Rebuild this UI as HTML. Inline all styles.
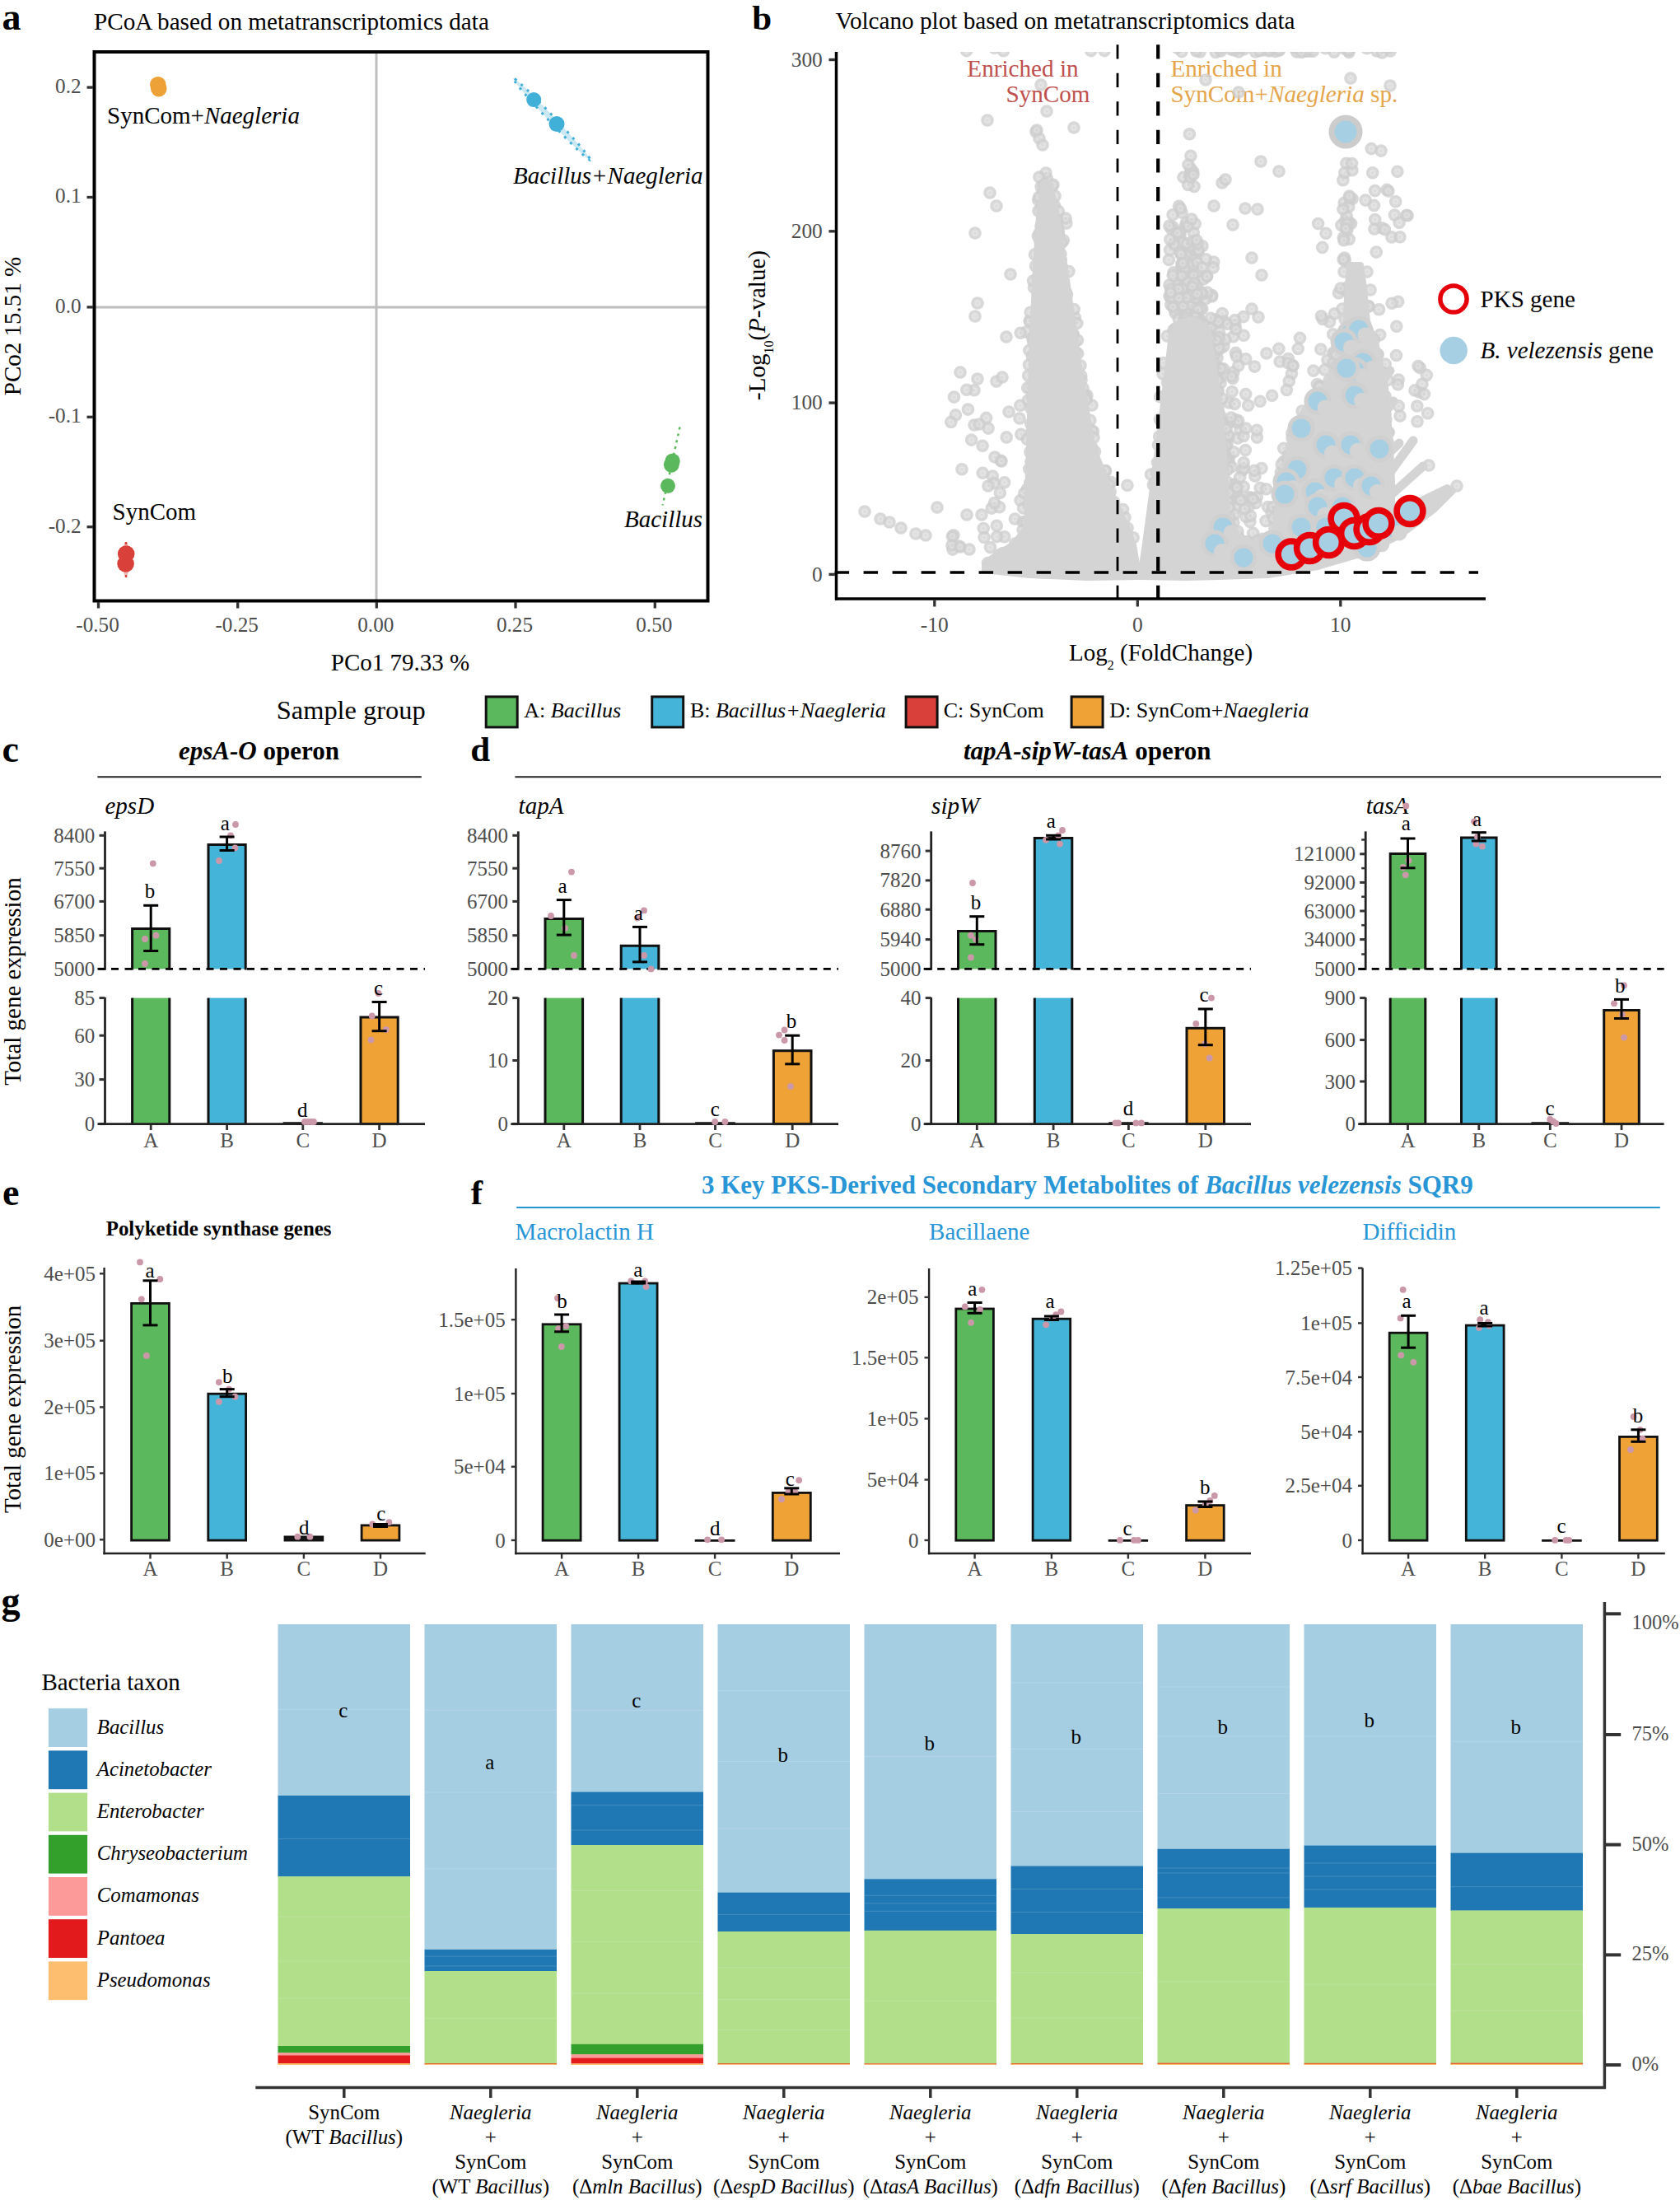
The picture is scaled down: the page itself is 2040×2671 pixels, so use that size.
<!DOCTYPE html>
<html><head><meta charset="utf-8"><title>Figure</title>
<style>
html,body{margin:0;padding:0;background:#fff}
svg{display:block}
text{font-family:"Liberation Serif",serif}
</style></head><body>
<svg width="2040" height="2671" viewBox="0 0 2040 2671">
<rect width="2040" height="2671" fill="#fff"/>
<text x="2.4" y="35.8" font-size="46" font-weight="bold">a</text>
<text x="114" y="35.5" font-size="29.2">PCoA based on metatranscriptomics data</text>
<line x1="457" y1="63" x2="457" y2="729" stroke="#bebebe" stroke-width="3"/>
<line x1="114" y1="372.9" x2="860" y2="372.9" stroke="#bebebe" stroke-width="3"/>
<rect x="114.5" y="63" width="745" height="666.5" fill="none" stroke="#000" stroke-width="4"/>
<line x1="105.5" y1="106.1" x2="113" y2="106.1" stroke="#333" stroke-width="3.3"/>
<text x="98.6" y="112.9" font-size="25.2" text-anchor="end" fill="#4d4d4d">0.2</text>
<line x1="105.5" y1="239.5" x2="113" y2="239.5" stroke="#333" stroke-width="3.3"/>
<text x="98.6" y="246.3" font-size="25.2" text-anchor="end" fill="#4d4d4d">0.1</text>
<line x1="105.5" y1="372.9" x2="113" y2="372.9" stroke="#333" stroke-width="3.3"/>
<text x="98.6" y="379.7" font-size="25.2" text-anchor="end" fill="#4d4d4d">0.0</text>
<line x1="105.5" y1="506.3" x2="113" y2="506.3" stroke="#333" stroke-width="3.3"/>
<text x="98.6" y="513.1" font-size="25.2" text-anchor="end" fill="#4d4d4d">-0.1</text>
<line x1="105.5" y1="639.7" x2="113" y2="639.7" stroke="#333" stroke-width="3.3"/>
<text x="98.6" y="646.5" font-size="25.2" text-anchor="end" fill="#4d4d4d">-0.2</text>
<line x1="119.5" y1="731" x2="119.5" y2="738.5" stroke="#333" stroke-width="3.3"/>
<text x="118.5" y="766.5" font-size="25.2" text-anchor="middle" fill="#4d4d4d">-0.50</text>
<line x1="288.7" y1="731" x2="288.7" y2="738.5" stroke="#333" stroke-width="3.3"/>
<text x="287.7" y="766.5" font-size="25.2" text-anchor="middle" fill="#4d4d4d">-0.25</text>
<line x1="457.3" y1="731" x2="457.3" y2="738.5" stroke="#333" stroke-width="3.3"/>
<text x="456.3" y="766.5" font-size="25.2" text-anchor="middle" fill="#4d4d4d">0.00</text>
<line x1="626" y1="731" x2="626" y2="738.5" stroke="#333" stroke-width="3.3"/>
<text x="625" y="766.5" font-size="25.2" text-anchor="middle" fill="#4d4d4d">0.25</text>
<line x1="795.3" y1="731" x2="795.3" y2="738.5" stroke="#333" stroke-width="3.3"/>
<text x="794.3" y="766.5" font-size="25.2" text-anchor="middle" fill="#4d4d4d">0.50</text>
<text x="486" y="814" font-size="29" text-anchor="middle">PCo1 79.33 %</text>
<text x="25" y="396" font-size="29" text-anchor="middle" transform="rotate(-90 25 396)">PCo2 15.51 %</text>
<circle cx="191.8" cy="102.8" r="9.8" fill="#eda137"/>
<circle cx="192.8" cy="107.6" r="9.8" fill="#eda137"/>
<text x="130" y="150" font-size="29">SynCom+<tspan font-style="italic">Naegleria</tspan></text>
<g transform="rotate(46.7 669.9 144.6)"><ellipse cx="669.9" cy="144.6" rx="68.5" ry="3.6" fill="#cbe8f3" stroke="#41b0d8" stroke-width="3" stroke-dasharray="3 7"/></g>
<circle cx="648.2" cy="121.1" r="9" fill="#41b0d8"/>
<circle cx="676" cy="150.5" r="9.5" fill="#41b0d8"/>
<text x="623" y="223.2" font-size="29"><tspan font-style="italic">Bacillus+Naegleria</tspan></text>
<line x1="825.5" y1="518.6" x2="804.6" y2="613.4" stroke="#5cb85c" stroke-width="2.5" stroke-dasharray="3 5"/>
<circle cx="816.6" cy="559.8" r="9.2" fill="#5cb85c"/>
<circle cx="815.3" cy="564.3" r="9.4" fill="#5cb85c"/>
<circle cx="811" cy="589.8" r="9" fill="#5cb85c"/>
<text x="758" y="640.2" font-size="29"><tspan font-style="italic">Bacillus</tspan></text>
<ellipse cx="153" cy="679" rx="4.5" ry="21" fill="#f2b8b5"/>
<line x1="153" y1="658" x2="153" y2="701" stroke="#d9403a" stroke-width="2.5" stroke-dasharray="3 5"/>
<circle cx="153.2" cy="672.5" r="10.3" fill="#d9403a"/>
<circle cx="152.6" cy="684.5" r="10.3" fill="#d9403a"/>
<text x="136.6" y="631" font-size="29">SynCom</text>
<text x="913.3" y="35.6" font-size="43" font-weight="bold">b</text>
<text x="1014.6" y="34.5" font-size="29.2">Volcano plot based on metatranscriptomics data</text>
<clipPath id="vc"><rect x="1017" y="63" width="800" height="664"/></clipPath>
<text x="1174.3" y="93" font-size="29.2" fill="#c0504d">Enriched in</text>
<text x="1221.4" y="124.3" font-size="29.2" fill="#c0504d">SynCom</text>
<text x="1421.4" y="93" font-size="29.2" fill="#e5a54b">Enriched in</text>
<text x="1421.4" y="124.3" font-size="29.2" fill="#e5a54b">SynCom+<tspan font-style="italic">Naegleria</tspan> sp.</text>
<g clip-path="url(#vc)">
<defs><radialGradient id="pg"><stop offset="0" stop-color="#d2d2d2"/><stop offset="0.12" stop-color="#d2d2d2"/><stop offset="0.3" stop-color="#dedede"/><stop offset="0.4" stop-color="#dedede"/><stop offset="0.6" stop-color="#cecece"/><stop offset="1" stop-color="#cecece"/></radialGradient></defs>
<g fill="url(#pg)" fill-opacity="0.8">
<circle cx="1290" cy="368.8" r="7.8"/>
<circle cx="1280.4" cy="249.4" r="7.8"/>
<circle cx="1281.6" cy="469.5" r="7.8"/>
<circle cx="1289" cy="456" r="7.8"/>
<circle cx="1269.3" cy="232.8" r="7.8"/>
<circle cx="1274" cy="258.1" r="7.8"/>
<circle cx="1285.9" cy="416.6" r="7.8"/>
<circle cx="1272" cy="321" r="7.8"/>
<circle cx="1311.9" cy="513" r="7.8"/>
<circle cx="1275.7" cy="403.4" r="7.8"/>
<circle cx="1349" cy="678.7" r="7.8"/>
<circle cx="1285.2" cy="352.6" r="7.8"/>
<circle cx="1279.7" cy="283.5" r="7.8"/>
<circle cx="1307.1" cy="602.7" r="7.8"/>
<circle cx="1264" cy="300.8" r="7.8"/>
<circle cx="1271.5" cy="391.9" r="7.8"/>
<circle cx="1291.5" cy="475.2" r="7.8"/>
<circle cx="1277.5" cy="312.8" r="7.8"/>
<circle cx="1273.8" cy="538.2" r="7.8"/>
<circle cx="1293.9" cy="493.1" r="7.8"/>
<circle cx="1274.9" cy="430.3" r="7.8"/>
<circle cx="1325.3" cy="547" r="7.8"/>
<circle cx="1265.7" cy="330.9" r="7.8"/>
<circle cx="1281.7" cy="630.7" r="7.8"/>
<circle cx="1276.9" cy="561.5" r="7.8"/>
<circle cx="1294.9" cy="271.1" r="7.8"/>
<circle cx="1282.6" cy="413.6" r="7.8"/>
<circle cx="1275" cy="447.3" r="7.8"/>
<circle cx="1266.3" cy="233.6" r="7.8"/>
<circle cx="1260.1" cy="487.2" r="7.8"/>
<circle cx="1280.4" cy="630.9" r="7.8"/>
<circle cx="1313.4" cy="497.3" r="7.8"/>
<circle cx="1253.5" cy="490.5" r="7.8"/>
<circle cx="1310.8" cy="663.7" r="7.8"/>
<circle cx="1281" cy="440.2" r="7.8"/>
<circle cx="1284" cy="548.2" r="7.8"/>
<circle cx="1325.1" cy="522.4" r="7.8"/>
<circle cx="1277.5" cy="350.2" r="7.8"/>
<circle cx="1279.9" cy="398.3" r="7.8"/>
<circle cx="1280.6" cy="434.3" r="7.8"/>
<circle cx="1277.4" cy="294.8" r="7.8"/>
<circle cx="1297.4" cy="579.9" r="7.8"/>
<circle cx="1274.1" cy="276.4" r="7.8"/>
<circle cx="1319.6" cy="628.9" r="7.8"/>
<circle cx="1264.2" cy="253.3" r="7.8"/>
<circle cx="1305.3" cy="634.6" r="7.8"/>
<circle cx="1306.1" cy="604.2" r="7.8"/>
<circle cx="1273.3" cy="412.3" r="7.8"/>
<circle cx="1305.3" cy="385.4" r="7.8"/>
<circle cx="1260.3" cy="286.7" r="7.8"/>
<circle cx="1276.1" cy="298.7" r="7.8"/>
<circle cx="1295.7" cy="445.4" r="7.8"/>
<circle cx="1287" cy="494.8" r="7.8"/>
<circle cx="1283.5" cy="414" r="7.8"/>
<circle cx="1250.5" cy="390.4" r="7.8"/>
<circle cx="1269.4" cy="543" r="7.8"/>
<circle cx="1266.5" cy="459.9" r="7.8"/>
<circle cx="1265.4" cy="240.6" r="7.8"/>
<circle cx="1305.5" cy="642.3" r="7.8"/>
<circle cx="1247.2" cy="594" r="7.8"/>
<circle cx="1276.2" cy="401.4" r="7.8"/>
<circle cx="1293.7" cy="516.3" r="7.8"/>
<circle cx="1276.2" cy="244.6" r="7.8"/>
<circle cx="1277.4" cy="292.1" r="7.8"/>
<circle cx="1280.3" cy="376.5" r="7.8"/>
<circle cx="1274.7" cy="286.9" r="7.8"/>
<circle cx="1272.1" cy="263.2" r="7.8"/>
<circle cx="1299.4" cy="630.3" r="7.8"/>
<circle cx="1296.3" cy="506.7" r="7.8"/>
<circle cx="1288.1" cy="380" r="7.8"/>
<circle cx="1299.2" cy="388" r="7.8"/>
<circle cx="1335.6" cy="686.7" r="7.8"/>
<circle cx="1277" cy="436.3" r="7.8"/>
<circle cx="1273.5" cy="263.5" r="7.8"/>
<circle cx="1277.8" cy="377.8" r="7.8"/>
<circle cx="1291.3" cy="291.7" r="7.8"/>
<circle cx="1277.6" cy="226" r="7.8"/>
<circle cx="1271.3" cy="284.6" r="7.8"/>
<circle cx="1306.6" cy="473" r="7.8"/>
<circle cx="1303.8" cy="679.8" r="7.8"/>
<circle cx="1288.6" cy="625.1" r="7.8"/>
<circle cx="1271" cy="389.2" r="7.8"/>
<circle cx="1276.6" cy="294.3" r="7.8"/>
<circle cx="1265" cy="585.1" r="7.8"/>
<circle cx="1283.6" cy="371.6" r="7.8"/>
<circle cx="1347.1" cy="682.8" r="7.8"/>
<circle cx="1310" cy="620" r="7.8"/>
<circle cx="1253.9" cy="566.4" r="7.8"/>
<circle cx="1267.2" cy="322.7" r="7.8"/>
<circle cx="1270.5" cy="228.8" r="7.8"/>
<circle cx="1270.3" cy="228.3" r="7.8"/>
<circle cx="1305.7" cy="543.9" r="7.8"/>
<circle cx="1238.8" cy="669.3" r="7.8"/>
<circle cx="1319.2" cy="684.3" r="7.8"/>
<circle cx="1285.2" cy="668.6" r="7.8"/>
<circle cx="1282.2" cy="322.8" r="7.8"/>
<circle cx="1279.7" cy="308.4" r="7.8"/>
<circle cx="1329.8" cy="642.6" r="7.8"/>
<circle cx="1259.8" cy="614.2" r="7.8"/>
<circle cx="1297.4" cy="594.8" r="7.8"/>
<circle cx="1264.4" cy="255.3" r="7.8"/>
<circle cx="1250.7" cy="586.6" r="7.8"/>
<circle cx="1278.1" cy="571.3" r="7.8"/>
<circle cx="1294.8" cy="589.8" r="7.8"/>
<circle cx="1290.3" cy="372.9" r="7.8"/>
<circle cx="1246.1" cy="403" r="7.8"/>
<circle cx="1303.2" cy="405.7" r="7.8"/>
<circle cx="1270.4" cy="295.8" r="7.8"/>
<circle cx="1284" cy="275.3" r="7.8"/>
<circle cx="1334" cy="598.1" r="7.8"/>
<circle cx="1285.4" cy="284.4" r="7.8"/>
<circle cx="1239.8" cy="527.2" r="7.8"/>
<circle cx="1273.7" cy="381.4" r="7.8"/>
<circle cx="1269.8" cy="221.8" r="7.8"/>
<circle cx="1278.7" cy="676.2" r="7.8"/>
<circle cx="1271.3" cy="658.5" r="7.8"/>
<circle cx="1301.9" cy="421.1" r="7.8"/>
<circle cx="1263" cy="315.2" r="7.8"/>
<circle cx="1275.3" cy="334.6" r="7.8"/>
<circle cx="1300" cy="493.6" r="7.8"/>
<circle cx="1272.6" cy="338.2" r="7.8"/>
<circle cx="1302.8" cy="647.3" r="7.8"/>
<circle cx="1263.7" cy="383" r="7.8"/>
<circle cx="1304.8" cy="644.5" r="7.8"/>
<circle cx="1297.2" cy="414.8" r="7.8"/>
<circle cx="1275.5" cy="467.6" r="7.8"/>
<circle cx="1303.2" cy="463.7" r="7.8"/>
<circle cx="1276.7" cy="302" r="7.8"/>
<circle cx="1271.4" cy="216.9" r="7.8"/>
<circle cx="1274.6" cy="439.9" r="7.8"/>
<circle cx="1273.2" cy="559.5" r="7.8"/>
<circle cx="1279.9" cy="461.2" r="7.8"/>
<circle cx="1287.9" cy="478.8" r="7.8"/>
<circle cx="1278.1" cy="481.1" r="7.8"/>
<circle cx="1274.3" cy="333" r="7.8"/>
<circle cx="1312.7" cy="456.2" r="7.8"/>
<circle cx="1288.8" cy="481.8" r="7.8"/>
<circle cx="1249.8" cy="425.5" r="7.8"/>
<circle cx="1265.2" cy="506" r="7.8"/>
<circle cx="1289.2" cy="544" r="7.8"/>
<circle cx="1266.2" cy="429.9" r="7.8"/>
<circle cx="1291" cy="662.2" r="7.8"/>
<circle cx="1325.6" cy="547.1" r="7.8"/>
<circle cx="1259.4" cy="338.3" r="7.8"/>
<circle cx="1317.9" cy="480.8" r="7.8"/>
<circle cx="1268.7" cy="280.1" r="7.8"/>
<circle cx="1270.9" cy="272.8" r="7.8"/>
<circle cx="1278.6" cy="329.3" r="7.8"/>
<circle cx="1266.6" cy="249.7" r="7.8"/>
<circle cx="1257.4" cy="641.1" r="7.8"/>
<circle cx="1272" cy="288.4" r="7.8"/>
<circle cx="1262.3" cy="282.9" r="7.8"/>
<circle cx="1312.6" cy="634.3" r="7.8"/>
<circle cx="1293.7" cy="667.4" r="7.8"/>
<circle cx="1239.2" cy="404.2" r="7.8"/>
<circle cx="1299.8" cy="610.4" r="7.8"/>
<circle cx="1265.3" cy="291.7" r="7.8"/>
<circle cx="1286.4" cy="376.1" r="7.8"/>
<circle cx="1269.5" cy="308" r="7.8"/>
<circle cx="1279" cy="224.3" r="7.8"/>
<circle cx="1283" cy="478.2" r="7.8"/>
<circle cx="1280.6" cy="372.5" r="7.8"/>
<circle cx="1281.2" cy="511.4" r="7.8"/>
<circle cx="1297.6" cy="682.9" r="7.8"/>
<circle cx="1303.3" cy="589.5" r="7.8"/>
<circle cx="1276.9" cy="341.1" r="7.8"/>
<circle cx="1272.3" cy="233.8" r="7.8"/>
<circle cx="1267.7" cy="276.5" r="7.8"/>
<circle cx="1305.2" cy="415.6" r="7.8"/>
<circle cx="1267" cy="337.8" r="7.8"/>
<circle cx="1164.2" cy="663" r="7.8"/>
<circle cx="1204.2" cy="617.1" r="7.8"/>
<circle cx="1158.5" cy="482.1" r="7.8"/>
<circle cx="1215.4" cy="559.3" r="7.8"/>
<circle cx="1156.9" cy="667.1" r="7.8"/>
<circle cx="1210.3" cy="638.3" r="7.8"/>
<circle cx="1158" cy="649.8" r="7.8"/>
<circle cx="1156.3" cy="651.2" r="7.8"/>
<circle cx="1193.1" cy="541.2" r="7.8"/>
<circle cx="1202.5" cy="664.6" r="7.8"/>
<circle cx="1175.4" cy="497.1" r="7.8"/>
<circle cx="1200.1" cy="520.1" r="7.8"/>
<circle cx="1160.4" cy="503.9" r="7.8"/>
<circle cx="1154.8" cy="512.4" r="7.8"/>
<circle cx="1179.6" cy="534.1" r="7.8"/>
<circle cx="1222.2" cy="530.9" r="7.8"/>
<circle cx="1197.5" cy="507.4" r="7.8"/>
<circle cx="1183" cy="473.8" r="7.8"/>
<circle cx="1173.8" cy="473.2" r="7.8"/>
<circle cx="1219.6" cy="585.7" r="7.8"/>
<circle cx="1168" cy="569.7" r="7.8"/>
<circle cx="1238.8" cy="492.3" r="7.8"/>
<circle cx="1239.1" cy="607.5" r="7.8"/>
<circle cx="1219.7" cy="651.8" r="7.8"/>
<circle cx="1213.6" cy="615.7" r="7.8"/>
<circle cx="1231.3" cy="668.1" r="7.8"/>
<circle cx="1210.6" cy="651.6" r="7.8"/>
<circle cx="1232.4" cy="630" r="7.8"/>
<circle cx="1214.3" cy="598.2" r="7.8"/>
<circle cx="1193.3" cy="574.3" r="7.8"/>
<circle cx="1194.2" cy="641.5" r="7.8"/>
<circle cx="1205.3" cy="578" r="7.8"/>
<circle cx="1195.1" cy="652.5" r="7.8"/>
<circle cx="1242.2" cy="633.8" r="7.8"/>
<circle cx="1206.9" cy="586.6" r="7.8"/>
<circle cx="1207.6" cy="610.5" r="7.8"/>
<circle cx="1336.3" cy="580.1" r="7.8"/>
<circle cx="1340.5" cy="626.6" r="7.8"/>
<circle cx="1368.9" cy="589.2" r="7.8"/>
<circle cx="1339.8" cy="626.9" r="7.8"/>
<circle cx="1342.4" cy="572.1" r="7.8"/>
<circle cx="1330" cy="574.3" r="7.8"/>
<circle cx="1349" cy="585.2" r="7.8"/>
<circle cx="1338" cy="585.4" r="7.8"/>
<circle cx="1330.2" cy="563.8" r="7.8"/>
<circle cx="1333.6" cy="576" r="7.8"/>
<circle cx="1050" cy="621" r="7.8"/>
<circle cx="1069" cy="630" r="7.8"/>
<circle cx="1080" cy="634" r="7.8"/>
<circle cx="1094" cy="641" r="7.8"/>
<circle cx="1112" cy="648" r="7.8"/>
<circle cx="1124" cy="650" r="7.8"/>
<circle cx="1156" cy="662" r="7.8"/>
<circle cx="1166" cy="664" r="7.8"/>
<circle cx="1177" cy="667" r="7.8"/>
<circle cx="1138" cy="616" r="7.8"/>
<circle cx="1174" cy="625" r="7.8"/>
<circle cx="1192" cy="625" r="7.8"/>
<circle cx="1166" cy="452" r="7.8"/>
<circle cx="1187" cy="460" r="7.8"/>
<circle cx="1210" cy="463" r="7.8"/>
<circle cx="1217" cy="458" r="7.8"/>
<circle cx="1183" cy="516" r="7.8"/>
<circle cx="1189" cy="515" r="7.8"/>
<circle cx="1187" cy="368" r="7.8"/>
<circle cx="1184" cy="384" r="7.8"/>
<circle cx="1184" cy="283" r="7.8"/>
<circle cx="1202" cy="234" r="7.8"/>
<circle cx="1210" cy="250" r="7.8"/>
<circle cx="1199" cy="146" r="7.8"/>
<circle cx="1304" cy="155" r="7.8"/>
<circle cx="1294" cy="265" r="7.8"/>
<circle cx="1271" cy="135" r="7.8"/>
<circle cx="1264" cy="103" r="7.8"/>
<circle cx="1225" cy="500" r="7.8"/>
<circle cx="1238" cy="508" r="7.8"/>
<circle cx="1227" cy="333" r="7.8"/>
<circle cx="1222" cy="409" r="7.8"/>
<circle cx="1208" cy="555" r="7.8"/>
<circle cx="1216" cy="560" r="7.8"/>
<circle cx="1200" cy="590" r="7.8"/>
<circle cx="1258" cy="160" r="7.8"/>
<circle cx="1262" cy="168" r="7.8"/>
<circle cx="1266" cy="176" r="7.8"/>
<circle cx="1270" cy="210" r="7.8"/>
<circle cx="1262" cy="215" r="7.8"/>
<circle cx="1259" cy="158" r="7.8"/>
<circle cx="1320" cy="480" r="7.8"/>
<circle cx="1326" cy="492" r="7.8"/>
<circle cx="1439.3" cy="274.7" r="7.8"/>
<circle cx="1453.3" cy="370.1" r="7.8"/>
<circle cx="1439.1" cy="387.3" r="7.8"/>
<circle cx="1420" cy="346.1" r="7.8"/>
<circle cx="1442.2" cy="408.7" r="7.8"/>
<circle cx="1424.1" cy="275.6" r="7.8"/>
<circle cx="1442.6" cy="400.6" r="7.8"/>
<circle cx="1420.6" cy="303.5" r="7.8"/>
<circle cx="1452.4" cy="360.7" r="7.8"/>
<circle cx="1421.7" cy="369.9" r="7.8"/>
<circle cx="1445" cy="380.5" r="7.8"/>
<circle cx="1446.3" cy="302" r="7.8"/>
<circle cx="1425.8" cy="295.1" r="7.8"/>
<circle cx="1437.9" cy="374.5" r="7.8"/>
<circle cx="1450.6" cy="358.9" r="7.8"/>
<circle cx="1423.6" cy="360.6" r="7.8"/>
<circle cx="1443.7" cy="378" r="7.8"/>
<circle cx="1432.9" cy="286.4" r="7.8"/>
<circle cx="1442.4" cy="385.2" r="7.8"/>
<circle cx="1420.1" cy="359.5" r="7.8"/>
<circle cx="1446.1" cy="357.7" r="7.8"/>
<circle cx="1426.6" cy="376.3" r="7.8"/>
<circle cx="1442.6" cy="305.3" r="7.8"/>
<circle cx="1433.3" cy="368.1" r="7.8"/>
<circle cx="1433.2" cy="281.9" r="7.8"/>
<circle cx="1427" cy="379.7" r="7.8"/>
<circle cx="1437.9" cy="362.2" r="7.8"/>
<circle cx="1446.4" cy="400.7" r="7.8"/>
<circle cx="1459.5" cy="408.1" r="7.8"/>
<circle cx="1446.5" cy="393.9" r="7.8"/>
<circle cx="1451.9" cy="354" r="7.8"/>
<circle cx="1473.7" cy="318" r="7.8"/>
<circle cx="1449.7" cy="304" r="7.8"/>
<circle cx="1442.9" cy="394" r="7.8"/>
<circle cx="1448.2" cy="400.1" r="7.8"/>
<circle cx="1471.7" cy="358.5" r="7.8"/>
<circle cx="1431.5" cy="250.2" r="7.8"/>
<circle cx="1446.4" cy="303.8" r="7.8"/>
<circle cx="1465.4" cy="335.6" r="7.8"/>
<circle cx="1445.2" cy="395.7" r="7.8"/>
<circle cx="1453.8" cy="403.6" r="7.8"/>
<circle cx="1437.6" cy="343.7" r="7.8"/>
<circle cx="1436.4" cy="409.9" r="7.8"/>
<circle cx="1454.1" cy="329.2" r="7.8"/>
<circle cx="1436.1" cy="294.2" r="7.8"/>
<circle cx="1473.2" cy="324.9" r="7.8"/>
<circle cx="1421.5" cy="361.5" r="7.8"/>
<circle cx="1468.2" cy="399.9" r="7.8"/>
<circle cx="1459.8" cy="375" r="7.8"/>
<circle cx="1438.7" cy="384.2" r="7.8"/>
<circle cx="1445" cy="385.5" r="7.8"/>
<circle cx="1424.9" cy="330.9" r="7.8"/>
<circle cx="1433.3" cy="403.7" r="7.8"/>
<circle cx="1445.7" cy="332.8" r="7.8"/>
<circle cx="1439" cy="408" r="7.8"/>
<circle cx="1435.2" cy="366.9" r="7.8"/>
<circle cx="1450.6" cy="309.5" r="7.8"/>
<circle cx="1471.5" cy="359.9" r="7.8"/>
<circle cx="1438.3" cy="401.8" r="7.8"/>
<circle cx="1445.5" cy="314.6" r="7.8"/>
<circle cx="1444.5" cy="339.4" r="7.8"/>
<circle cx="1454.4" cy="368.3" r="7.8"/>
<circle cx="1431.2" cy="387.2" r="7.8"/>
<circle cx="1452" cy="344.4" r="7.8"/>
<circle cx="1449.3" cy="282.3" r="7.8"/>
<circle cx="1442.9" cy="360.6" r="7.8"/>
<circle cx="1443.7" cy="397.9" r="7.8"/>
<circle cx="1453.7" cy="347.5" r="7.8"/>
<circle cx="1447" cy="406" r="7.8"/>
<circle cx="1440.5" cy="270.5" r="7.8"/>
<circle cx="1444.8" cy="400.9" r="7.8"/>
<circle cx="1443.8" cy="346.4" r="7.8"/>
<circle cx="1454.6" cy="394.5" r="7.8"/>
<circle cx="1441.2" cy="296.1" r="7.8"/>
<circle cx="1463.7" cy="362.9" r="7.8"/>
<circle cx="1437.1" cy="376.8" r="7.8"/>
<circle cx="1466.1" cy="355" r="7.8"/>
<circle cx="1449" cy="322" r="7.8"/>
<circle cx="1451.4" cy="376.6" r="7.8"/>
<circle cx="1451.6" cy="375.6" r="7.8"/>
<circle cx="1425.9" cy="296.9" r="7.8"/>
<circle cx="1441.3" cy="345.9" r="7.8"/>
<circle cx="1439.8" cy="371.8" r="7.8"/>
<circle cx="1458.8" cy="406.5" r="7.8"/>
<circle cx="1445.9" cy="399.8" r="7.8"/>
<circle cx="1454.9" cy="406.6" r="7.8"/>
<circle cx="1424.2" cy="334.3" r="7.8"/>
<circle cx="1444.2" cy="350.2" r="7.8"/>
<circle cx="1445.1" cy="378.9" r="7.8"/>
<circle cx="1447.2" cy="338.8" r="7.8"/>
<circle cx="1450.8" cy="380.4" r="7.8"/>
<circle cx="1423.8" cy="360.8" r="7.8"/>
<circle cx="1449.2" cy="407.4" r="7.8"/>
<circle cx="1434.9" cy="320" r="7.8"/>
<circle cx="1435.3" cy="332.3" r="7.8"/>
<circle cx="1443.6" cy="320.3" r="7.8"/>
<circle cx="1452.5" cy="378.7" r="7.8"/>
<circle cx="1453.7" cy="318.4" r="7.8"/>
<circle cx="1455.2" cy="304" r="7.8"/>
<circle cx="1449.8" cy="401.1" r="7.8"/>
<circle cx="1455.3" cy="385.5" r="7.8"/>
<circle cx="1438.4" cy="313.2" r="7.8"/>
<circle cx="1438.2" cy="386.9" r="7.8"/>
<circle cx="1433" cy="343.9" r="7.8"/>
<circle cx="1440.9" cy="309.9" r="7.8"/>
<circle cx="1457" cy="406.2" r="7.8"/>
<circle cx="1430.2" cy="406.9" r="7.8"/>
<circle cx="1463.8" cy="394.1" r="7.8"/>
<circle cx="1422.2" cy="277.7" r="7.8"/>
<circle cx="1464.2" cy="314.7" r="7.8"/>
<circle cx="1424.9" cy="401" r="7.8"/>
<circle cx="1457.4" cy="388.9" r="7.8"/>
<circle cx="1451.2" cy="271.7" r="7.8"/>
<circle cx="1439.9" cy="387" r="7.8"/>
<circle cx="1461.2" cy="339" r="7.8"/>
<circle cx="1438.8" cy="327" r="7.8"/>
<circle cx="1465.5" cy="335.6" r="7.8"/>
<circle cx="1445.6" cy="402.7" r="7.8"/>
<circle cx="1446.6" cy="405.1" r="7.8"/>
<circle cx="1459.8" cy="406.3" r="7.8"/>
<circle cx="1430.2" cy="345.7" r="7.8"/>
<circle cx="1451.5" cy="403.8" r="7.8"/>
<circle cx="1454.7" cy="392.3" r="7.8"/>
<circle cx="1424.4" cy="372.5" r="7.8"/>
<circle cx="1444.8" cy="336.1" r="7.8"/>
<circle cx="1438.1" cy="315.5" r="7.8"/>
<circle cx="1459.6" cy="324.5" r="7.8"/>
<circle cx="1447.2" cy="337" r="7.8"/>
<circle cx="1444.5" cy="399.8" r="7.8"/>
<circle cx="1448.3" cy="292.8" r="7.8"/>
<circle cx="1446" cy="383.2" r="7.8"/>
<circle cx="1457.9" cy="373.9" r="7.8"/>
<circle cx="1441.4" cy="387" r="7.8"/>
<circle cx="1439.2" cy="395.9" r="7.8"/>
<circle cx="1443.7" cy="368" r="7.8"/>
<circle cx="1434.9" cy="324.6" r="7.8"/>
<circle cx="1432.9" cy="306.6" r="7.8"/>
<circle cx="1438.5" cy="347" r="7.8"/>
<circle cx="1451" cy="361.1" r="7.8"/>
<circle cx="1427.5" cy="409.2" r="7.8"/>
<circle cx="1459.7" cy="357.1" r="7.8"/>
<circle cx="1419.9" cy="274.2" r="7.8"/>
<circle cx="1459.9" cy="298.7" r="7.8"/>
<circle cx="1442.2" cy="404" r="7.8"/>
<circle cx="1443.6" cy="398.2" r="7.8"/>
<circle cx="1467.6" cy="405.3" r="7.8"/>
<circle cx="1446.9" cy="371.3" r="7.8"/>
<circle cx="1455.3" cy="303.9" r="7.8"/>
<circle cx="1438.4" cy="325.8" r="7.8"/>
<circle cx="1435" cy="258.1" r="7.8"/>
<circle cx="1441.3" cy="380" r="7.8"/>
<circle cx="1452.9" cy="391.6" r="7.8"/>
<circle cx="1429.7" cy="282.8" r="7.8"/>
<circle cx="1454.6" cy="375.9" r="7.8"/>
<circle cx="1434.2" cy="308.8" r="7.8"/>
<circle cx="1449.4" cy="334.3" r="7.8"/>
<circle cx="1435.3" cy="335" r="7.8"/>
<circle cx="1455.5" cy="398" r="7.8"/>
<circle cx="1442.6" cy="342.5" r="7.8"/>
<circle cx="1433.4" cy="253" r="7.8"/>
<circle cx="1421.6" cy="350.7" r="7.8"/>
<circle cx="1459.1" cy="355.4" r="7.8"/>
<circle cx="1424.1" cy="260.7" r="7.8"/>
<circle cx="1420.9" cy="290.7" r="7.8"/>
<circle cx="1450.3" cy="343.5" r="7.8"/>
<circle cx="1452.7" cy="362.7" r="7.8"/>
<circle cx="1454.4" cy="296.1" r="7.8"/>
<circle cx="1419.4" cy="315.5" r="7.8"/>
<circle cx="1440.8" cy="405.1" r="7.8"/>
<circle cx="1445.5" cy="403.6" r="7.8"/>
<circle cx="1448.5" cy="401.7" r="7.8"/>
<circle cx="1438" cy="390.7" r="7.8"/>
<circle cx="1447.9" cy="348.1" r="7.8"/>
<circle cx="1436.1" cy="319.4" r="7.8"/>
<circle cx="1451.3" cy="362.3" r="7.8"/>
<circle cx="1451.5" cy="384.7" r="7.8"/>
<circle cx="1442.7" cy="274.5" r="7.8"/>
<circle cx="1441.3" cy="395.6" r="7.8"/>
<circle cx="1436.7" cy="371.6" r="7.8"/>
<circle cx="1436" cy="350.2" r="7.8"/>
<circle cx="1430.8" cy="350.9" r="7.8"/>
<circle cx="1446.9" cy="266" r="7.8"/>
<circle cx="1446.1" cy="358.9" r="7.8"/>
<circle cx="1421.6" cy="355.1" r="7.8"/>
<circle cx="1453.7" cy="356.9" r="7.8"/>
<circle cx="1452.8" cy="291.5" r="7.8"/>
<circle cx="1440.7" cy="361.4" r="7.8"/>
<circle cx="1440.6" cy="385.6" r="7.8"/>
<circle cx="1431.6" cy="361.6" r="7.8"/>
<circle cx="1444.8" cy="405.8" r="7.8"/>
<circle cx="1448.7" cy="208.6" r="7.8"/>
<circle cx="1437" cy="215.2" r="7.8"/>
<circle cx="1445.9" cy="189.3" r="7.8"/>
<circle cx="1450.1" cy="226.5" r="7.8"/>
<circle cx="1444.8" cy="213.1" r="7.8"/>
<circle cx="1442.7" cy="224.4" r="7.8"/>
<circle cx="1445.6" cy="210.5" r="7.8"/>
<circle cx="1444.4" cy="162.7" r="7.8"/>
<circle cx="1445.1" cy="215.3" r="7.8"/>
<circle cx="1446" cy="205" r="7.8"/>
<circle cx="1449" cy="212" r="7.8"/>
<circle cx="1443" cy="200" r="7.8"/>
<circle cx="1464" cy="97" r="7.8"/>
<circle cx="1504" cy="112" r="7.8"/>
<circle cx="1484" cy="222" r="7.8"/>
<circle cx="1488" cy="218" r="7.8"/>
<circle cx="1474" cy="250" r="7.8"/>
<circle cx="1512" cy="253" r="7.8"/>
<circle cx="1527" cy="254" r="7.8"/>
<circle cx="1531" cy="196" r="7.8"/>
<circle cx="1553" cy="208" r="7.8"/>
<circle cx="1497" cy="273" r="7.8"/>
<circle cx="1520" cy="313" r="7.8"/>
<circle cx="1532" cy="334" r="7.8"/>
<circle cx="1528" cy="385" r="7.8"/>
<circle cx="1520" cy="375" r="7.8"/>
<circle cx="1482" cy="423.1" r="7.8"/>
<circle cx="1491.8" cy="530.7" r="7.8"/>
<circle cx="1481.4" cy="458.9" r="7.8"/>
<circle cx="1482.2" cy="531.8" r="7.8"/>
<circle cx="1478.1" cy="434.6" r="7.8"/>
<circle cx="1500.5" cy="428.4" r="7.8"/>
<circle cx="1499.8" cy="648.6" r="7.8"/>
<circle cx="1475" cy="430.6" r="7.8"/>
<circle cx="1490.1" cy="539.2" r="7.8"/>
<circle cx="1508.5" cy="570.9" r="7.8"/>
<circle cx="1512.3" cy="546.6" r="7.8"/>
<circle cx="1488.4" cy="554" r="7.8"/>
<circle cx="1496.5" cy="677.9" r="7.8"/>
<circle cx="1510.7" cy="568.9" r="7.8"/>
<circle cx="1496.9" cy="459.4" r="7.8"/>
<circle cx="1506.8" cy="677.1" r="7.8"/>
<circle cx="1494.2" cy="609.4" r="7.8"/>
<circle cx="1493.2" cy="512.7" r="7.8"/>
<circle cx="1499.9" cy="394.5" r="7.8"/>
<circle cx="1487.2" cy="625.9" r="7.8"/>
<circle cx="1518.5" cy="675.2" r="7.8"/>
<circle cx="1490.5" cy="555.8" r="7.8"/>
<circle cx="1484.2" cy="380.5" r="7.8"/>
<circle cx="1486.4" cy="390.1" r="7.8"/>
<circle cx="1500.7" cy="509.7" r="7.8"/>
<circle cx="1488.5" cy="533.8" r="7.8"/>
<circle cx="1480.6" cy="448.2" r="7.8"/>
<circle cx="1484.4" cy="575.9" r="7.8"/>
<circle cx="1477" cy="486.5" r="7.8"/>
<circle cx="1480.4" cy="411.9" r="7.8"/>
<circle cx="1492.7" cy="555.1" r="7.8"/>
<circle cx="1489.6" cy="556.7" r="7.8"/>
<circle cx="1506.1" cy="522.5" r="7.8"/>
<circle cx="1485.9" cy="420.4" r="7.8"/>
<circle cx="1478.2" cy="424.8" r="7.8"/>
<circle cx="1497.5" cy="408.7" r="7.8"/>
<circle cx="1516.6" cy="614.6" r="7.8"/>
<circle cx="1478" cy="500.6" r="7.8"/>
<circle cx="1485.9" cy="573.5" r="7.8"/>
<circle cx="1498.1" cy="548.7" r="7.8"/>
<circle cx="1501.9" cy="513.1" r="7.8"/>
<circle cx="1490.5" cy="661.1" r="7.8"/>
<circle cx="1503.3" cy="651.1" r="7.8"/>
<circle cx="1490.2" cy="393.2" r="7.8"/>
<circle cx="1478.3" cy="451.3" r="7.8"/>
<circle cx="1471.1" cy="397.5" r="7.8"/>
<circle cx="1484" cy="545.3" r="7.8"/>
<circle cx="1497.4" cy="662.3" r="7.8"/>
<circle cx="1492.5" cy="562.4" r="7.8"/>
<circle cx="1503" cy="532.1" r="7.8"/>
<circle cx="1501.4" cy="432.4" r="7.8"/>
<circle cx="1477.8" cy="472.8" r="7.8"/>
<circle cx="1494" cy="646.8" r="7.8"/>
<circle cx="1486.2" cy="614.9" r="7.8"/>
<circle cx="1489.2" cy="633.3" r="7.8"/>
<circle cx="1517.1" cy="603.6" r="7.8"/>
<circle cx="1485.9" cy="515.7" r="7.8"/>
<circle cx="1485.5" cy="447.8" r="7.8"/>
<circle cx="1479" cy="391.6" r="7.8"/>
<circle cx="1476.4" cy="480.7" r="7.8"/>
<circle cx="1517.9" cy="633.6" r="7.8"/>
<circle cx="1486.8" cy="593.5" r="7.8"/>
<circle cx="1503.7" cy="510.8" r="7.8"/>
<circle cx="1501.4" cy="616.5" r="7.8"/>
<circle cx="1485.1" cy="572.6" r="7.8"/>
<circle cx="1498" cy="669.5" r="7.8"/>
<circle cx="1509.9" cy="384.6" r="7.8"/>
<circle cx="1477.6" cy="458.1" r="7.8"/>
<circle cx="1522" cy="663.4" r="7.8"/>
<circle cx="1504.1" cy="603.8" r="7.8"/>
<circle cx="1512.7" cy="478.6" r="7.8"/>
<circle cx="1497.9" cy="451.8" r="7.8"/>
<circle cx="1499.3" cy="587.9" r="7.8"/>
<circle cx="1505.6" cy="579.6" r="7.8"/>
<circle cx="1489.9" cy="631.9" r="7.8"/>
<circle cx="1497.4" cy="589.3" r="7.8"/>
<circle cx="1501.3" cy="597.4" r="7.8"/>
<circle cx="1486.2" cy="551.1" r="7.8"/>
<circle cx="1495.3" cy="566.8" r="7.8"/>
<circle cx="1480.4" cy="403.3" r="7.8"/>
<circle cx="1475.8" cy="388.1" r="7.8"/>
<circle cx="1488.1" cy="412" r="7.8"/>
<circle cx="1480.2" cy="422.6" r="7.8"/>
<circle cx="1499.6" cy="388.6" r="7.8"/>
<circle cx="1490.6" cy="570.2" r="7.8"/>
<circle cx="1484.5" cy="589.1" r="7.8"/>
<circle cx="1489.1" cy="557.1" r="7.8"/>
<circle cx="1492.2" cy="489" r="7.8"/>
<circle cx="1521.7" cy="647.4" r="7.8"/>
<circle cx="1500.6" cy="399.8" r="7.8"/>
<circle cx="1521.9" cy="663.3" r="7.8"/>
<circle cx="1474.2" cy="412.1" r="7.8"/>
<circle cx="1479.4" cy="390.3" r="7.8"/>
<circle cx="1497.9" cy="634.3" r="7.8"/>
<circle cx="1512.9" cy="627.5" r="7.8"/>
<circle cx="1484.7" cy="569.5" r="7.8"/>
<circle cx="1480.3" cy="409.4" r="7.8"/>
<circle cx="1490.1" cy="607.2" r="7.8"/>
<circle cx="1495" cy="507.1" r="7.8"/>
<circle cx="1470.4" cy="386.3" r="7.8"/>
<circle cx="1500.6" cy="594.7" r="7.8"/>
<circle cx="1499.2" cy="490.4" r="7.8"/>
<circle cx="1526.4" cy="531.1" r="7.8"/>
<circle cx="1490.9" cy="635.4" r="7.8"/>
<circle cx="1481.4" cy="503.9" r="7.8"/>
<circle cx="1481.1" cy="510.9" r="7.8"/>
<circle cx="1502.4" cy="591.4" r="7.8"/>
<circle cx="1488.9" cy="541.4" r="7.8"/>
<circle cx="1510.2" cy="407.3" r="7.8"/>
<circle cx="1487" cy="625.9" r="7.8"/>
<circle cx="1474.4" cy="440.6" r="7.8"/>
<circle cx="1487.2" cy="608.7" r="7.8"/>
<circle cx="1479.9" cy="527.2" r="7.8"/>
<circle cx="1483.3" cy="527.4" r="7.8"/>
<circle cx="1491.9" cy="528.4" r="7.8"/>
<circle cx="1484.2" cy="484.2" r="7.8"/>
<circle cx="1502.7" cy="663.2" r="7.8"/>
<circle cx="1482.1" cy="465.1" r="7.8"/>
<circle cx="1510" cy="529.5" r="7.8"/>
<circle cx="1477" cy="413" r="7.8"/>
<circle cx="1558.8" cy="560.3" r="7.8"/>
<circle cx="1558.7" cy="544.4" r="7.8"/>
<circle cx="1515.6" cy="492.3" r="7.8"/>
<circle cx="1519.5" cy="604.8" r="7.8"/>
<circle cx="1488.6" cy="604.3" r="7.8"/>
<circle cx="1482.5" cy="447.4" r="7.8"/>
<circle cx="1506.3" cy="607.3" r="7.8"/>
<circle cx="1530.1" cy="487.2" r="7.8"/>
<circle cx="1568.4" cy="453.7" r="7.8"/>
<circle cx="1526.1" cy="522.3" r="7.8"/>
<circle cx="1555.4" cy="573.2" r="7.8"/>
<circle cx="1544.6" cy="480.2" r="7.8"/>
<circle cx="1512.7" cy="435.7" r="7.8"/>
<circle cx="1564.3" cy="552.3" r="7.8"/>
<circle cx="1554.2" cy="439" r="7.8"/>
<circle cx="1523.9" cy="577.9" r="7.8"/>
<circle cx="1537.9" cy="429" r="7.8"/>
<circle cx="1526.2" cy="603.6" r="7.8"/>
<circle cx="1503.8" cy="444.1" r="7.8"/>
<circle cx="1510.2" cy="561.7" r="7.8"/>
<circle cx="1564.4" cy="435.6" r="7.8"/>
<circle cx="1495.6" cy="456.9" r="7.8"/>
<circle cx="1512.7" cy="520.1" r="7.8"/>
<circle cx="1496.1" cy="475.5" r="7.8"/>
<circle cx="1498.9" cy="624.3" r="7.8"/>
<circle cx="1552.9" cy="423.4" r="7.8"/>
<circle cx="1576.2" cy="423.4" r="7.8"/>
<circle cx="1518.4" cy="626.3" r="7.8"/>
<circle cx="1559.5" cy="568.7" r="7.8"/>
<circle cx="1523.5" cy="445.1" r="7.8"/>
<circle cx="1531.9" cy="568.5" r="7.8"/>
<circle cx="1510.3" cy="591.1" r="7.8"/>
<circle cx="1501.7" cy="591.9" r="7.8"/>
<circle cx="1539.6" cy="615.5" r="7.8"/>
<circle cx="1525" cy="610.6" r="7.8"/>
<circle cx="1523.2" cy="571.3" r="7.8"/>
<circle cx="1530.2" cy="592.4" r="7.8"/>
<circle cx="1537" cy="632.6" r="7.8"/>
<circle cx="1521.5" cy="605.9" r="7.8"/>
<circle cx="1537.5" cy="593.7" r="7.8"/>
<circle cx="1511.4" cy="617.8" r="7.8"/>
<circle cx="1544" cy="621.9" r="7.8"/>
<circle cx="1635.8" cy="279.5" r="7.8"/>
<circle cx="1640.6" cy="271.6" r="7.8"/>
<circle cx="1632.2" cy="246.3" r="7.8"/>
<circle cx="1634.8" cy="198.2" r="7.8"/>
<circle cx="1642.2" cy="241.6" r="7.8"/>
<circle cx="1638.3" cy="270" r="7.8"/>
<circle cx="1630.8" cy="218.8" r="7.8"/>
<circle cx="1633.1" cy="268.9" r="7.8"/>
<circle cx="1639" cy="240.3" r="7.8"/>
<circle cx="1632.8" cy="209.7" r="7.8"/>
<circle cx="1628.8" cy="273.4" r="7.8"/>
<circle cx="1637.7" cy="251.1" r="7.8"/>
<circle cx="1633.1" cy="316.6" r="7.8"/>
<circle cx="1641.9" cy="206.7" r="7.8"/>
<circle cx="1638.2" cy="290.5" r="7.8"/>
<circle cx="1641.5" cy="198.6" r="7.8"/>
<circle cx="1635.2" cy="262.6" r="7.8"/>
<circle cx="1630.9" cy="254.1" r="7.8"/>
<circle cx="1635.4" cy="271.3" r="7.8"/>
<circle cx="1639.3" cy="240.4" r="7.8"/>
<circle cx="1632.7" cy="313" r="7.8"/>
<circle cx="1638.5" cy="238" r="7.8"/>
<circle cx="1696.9" cy="208.2" r="7.8"/>
<circle cx="1709.1" cy="261.8" r="7.8"/>
<circle cx="1658.1" cy="243.1" r="7.8"/>
<circle cx="1677" cy="183.1" r="7.8"/>
<circle cx="1678" cy="276.7" r="7.8"/>
<circle cx="1693.4" cy="261" r="7.8"/>
<circle cx="1669.6" cy="231.6" r="7.8"/>
<circle cx="1695.8" cy="396.2" r="7.8"/>
<circle cx="1684" cy="230.4" r="7.8"/>
<circle cx="1699.1" cy="270.2" r="7.8"/>
<circle cx="1666.7" cy="209.7" r="7.8"/>
<circle cx="1697.7" cy="366.2" r="7.8"/>
<circle cx="1689.9" cy="287.9" r="7.8"/>
<circle cx="1685.9" cy="232" r="7.8"/>
<circle cx="1708" cy="261.2" r="7.8"/>
<circle cx="1690.1" cy="368.3" r="7.8"/>
<circle cx="1699.9" cy="287.7" r="7.8"/>
<circle cx="1671.2" cy="306.1" r="7.8"/>
<circle cx="1661.9" cy="371.8" r="7.8"/>
<circle cx="1674.5" cy="375.7" r="7.8"/>
<circle cx="1669.7" cy="266.5" r="7.8"/>
<circle cx="1668.9" cy="278" r="7.8"/>
<circle cx="1665.2" cy="180.6" r="7.8"/>
<circle cx="1694.7" cy="244.7" r="7.8"/>
<circle cx="1668.5" cy="249.4" r="7.8"/>
<circle cx="1681.4" cy="278.6" r="7.8"/>
<circle cx="1625.5" cy="355.7" r="7.8"/>
<circle cx="1614.5" cy="390.7" r="7.8"/>
<circle cx="1634.2" cy="277.4" r="7.8"/>
<circle cx="1633.1" cy="387.8" r="7.8"/>
<circle cx="1631.4" cy="288.3" r="7.8"/>
<circle cx="1633.3" cy="352.3" r="7.8"/>
<circle cx="1600.6" cy="271.5" r="7.8"/>
<circle cx="1638.1" cy="355.3" r="7.8"/>
<circle cx="1610" cy="283.2" r="7.8"/>
<circle cx="1605.7" cy="300.4" r="7.8"/>
<circle cx="1631.1" cy="315" r="7.8"/>
<circle cx="1606.1" cy="387.5" r="7.8"/>
<circle cx="1631.7" cy="291.8" r="7.8"/>
<circle cx="1635.6" cy="349.1" r="7.8"/>
<circle cx="1614.7" cy="466.9" r="7.8"/>
<circle cx="1622.6" cy="482.4" r="7.8"/>
<circle cx="1618.7" cy="405.7" r="7.8"/>
<circle cx="1608.5" cy="449" r="7.8"/>
<circle cx="1611.9" cy="437" r="7.8"/>
<circle cx="1621.8" cy="452.2" r="7.8"/>
<circle cx="1578.5" cy="410.4" r="7.8"/>
<circle cx="1569.8" cy="444.1" r="7.8"/>
<circle cx="1564.1" cy="440.7" r="7.8"/>
<circle cx="1570.1" cy="443.9" r="7.8"/>
<circle cx="1594.9" cy="450.1" r="7.8"/>
<circle cx="1620.4" cy="380.9" r="7.8"/>
<circle cx="1618.9" cy="440.8" r="7.8"/>
<circle cx="1599.4" cy="466.5" r="7.8"/>
<circle cx="1618.8" cy="428.7" r="7.8"/>
<circle cx="1589.3" cy="504.9" r="7.8"/>
<circle cx="1565.3" cy="462.8" r="7.8"/>
<circle cx="1604.5" cy="383.7" r="7.8"/>
<circle cx="1602.7" cy="468.7" r="7.8"/>
<circle cx="1625.2" cy="423" r="7.8"/>
<circle cx="1628.7" cy="446.4" r="7.8"/>
<circle cx="1593.9" cy="496.7" r="7.8"/>
<circle cx="1562.4" cy="473.4" r="7.8"/>
<circle cx="1603.8" cy="424" r="7.8"/>
<circle cx="1620.3" cy="427.6" r="7.8"/>
<circle cx="1640" cy="95" r="7.8"/>
<circle cx="1688" cy="104" r="7.8"/>
<circle cx="1632" cy="330" r="7.8"/>
<circle cx="1660" cy="330" r="7.8"/>
<circle cx="1628" cy="350" r="7.8"/>
<circle cx="1664" cy="352" r="7.8"/>
<circle cx="1630" cy="375" r="7.8"/>
<circle cx="1662" cy="372" r="7.8"/>
<circle cx="1553.1" cy="61.2" r="7.8"/>
<circle cx="1633.1" cy="59.3" r="7.8"/>
<circle cx="1542.5" cy="60.5" r="7.8"/>
<circle cx="1574.6" cy="63" r="7.8"/>
<circle cx="1504.1" cy="63" r="7.8"/>
<circle cx="1534" cy="61" r="7.8"/>
<circle cx="1498.4" cy="61" r="7.8"/>
<circle cx="1688.2" cy="61.9" r="7.8"/>
<circle cx="1638.8" cy="60" r="7.8"/>
<circle cx="1510.6" cy="59.8" r="7.8"/>
<circle cx="1583.3" cy="61.8" r="7.8"/>
<circle cx="1636.7" cy="58.2" r="7.8"/>
<circle cx="1620.1" cy="63.3" r="7.8"/>
<circle cx="1572.3" cy="58.3" r="7.8"/>
<circle cx="1506.1" cy="58" r="7.8"/>
<circle cx="1476.3" cy="63.5" r="7.8"/>
<circle cx="1589.3" cy="61.9" r="7.8"/>
<circle cx="1638" cy="63.5" r="7.8"/>
<circle cx="1590.2" cy="61.7" r="7.8"/>
<circle cx="1594.2" cy="62.2" r="7.8"/>
<circle cx="1586" cy="62.1" r="7.8"/>
<circle cx="1482.4" cy="62" r="7.8"/>
<circle cx="1548.6" cy="62.6" r="7.8"/>
<circle cx="1452.4" cy="59.1" r="7.8"/>
<circle cx="1435" cy="62.6" r="7.8"/>
<circle cx="1671.8" cy="61.9" r="7.8"/>
<circle cx="1524.6" cy="62.9" r="7.8"/>
<circle cx="1637.4" cy="61.4" r="7.8"/>
<circle cx="1494.7" cy="59.8" r="7.8"/>
<circle cx="1538.9" cy="59.9" r="7.8"/>
<circle cx="1541.3" cy="61.9" r="7.8"/>
<circle cx="1677.1" cy="58.3" r="7.8"/>
<circle cx="1578.2" cy="58.2" r="7.8"/>
<circle cx="1457.1" cy="62.9" r="7.8"/>
<circle cx="1580.3" cy="63.5" r="7.8"/>
<circle cx="1545.5" cy="58.1" r="7.8"/>
<circle cx="1529.5" cy="61.6" r="7.8"/>
<circle cx="1678.2" cy="63.9" r="7.8"/>
<circle cx="1553.4" cy="60.5" r="7.8"/>
<circle cx="1452.6" cy="61.9" r="7.8"/>
<circle cx="1482.3" cy="58.9" r="7.8"/>
<circle cx="1429.2" cy="58" r="7.8"/>
<circle cx="1609.6" cy="58.7" r="7.8"/>
<circle cx="1685.9" cy="58.5" r="7.8"/>
<circle cx="1659.8" cy="58.8" r="7.8"/>
<circle cx="1173.6" cy="61.6" r="7.8"/>
<circle cx="1218.5" cy="61.7" r="7.8"/>
<circle cx="1207.5" cy="58.3" r="7.8"/>
<circle cx="1324.8" cy="61.6" r="7.8"/>
<circle cx="1341.1" cy="61.6" r="7.8"/>
<circle cx="1698.4" cy="492.9" r="7.8"/>
<circle cx="1723.4" cy="476.1" r="7.8"/>
<circle cx="1732.3" cy="455.4" r="7.8"/>
<circle cx="1733.6" cy="501.7" r="7.8"/>
<circle cx="1695.5" cy="431.5" r="7.8"/>
<circle cx="1721" cy="511.7" r="7.8"/>
<circle cx="1698.2" cy="461.1" r="7.8"/>
<circle cx="1724.2" cy="446.6" r="7.8"/>
<circle cx="1729.4" cy="478.6" r="7.8"/>
<circle cx="1697.4" cy="466.8" r="7.8"/>
<circle cx="1718" cy="473.9" r="7.8"/>
<circle cx="1722.1" cy="444.5" r="7.8"/>
<circle cx="1726.9" cy="466.3" r="7.8"/>
<circle cx="1720.8" cy="493" r="7.8"/>
<circle cx="1769" cy="590" r="7.8"/>
<circle cx="1735" cy="565" r="7.8"/>
<circle cx="1700" cy="505" r="7.8"/>
<circle cx="1199.5" cy="683.5" r="7.8"/>
<circle cx="1217.7" cy="671.6" r="7.8"/>
<circle cx="1213.4" cy="673.8" r="7.8"/>
<circle cx="1232.8" cy="659.9" r="7.8"/>
<circle cx="1241.3" cy="657.3" r="7.8"/>
<circle cx="1242.1" cy="643.3" r="7.8"/>
<circle cx="1246" cy="633.8" r="7.8"/>
<circle cx="1251.4" cy="628.5" r="7.8"/>
<circle cx="1242.6" cy="616.9" r="7.8"/>
<circle cx="1248.8" cy="612" r="7.8"/>
<circle cx="1243.8" cy="598.9" r="7.8"/>
<circle cx="1252.3" cy="587.9" r="7.8"/>
<circle cx="1252.2" cy="586" r="7.8"/>
<circle cx="1253.2" cy="568.6" r="7.8"/>
<circle cx="1249.7" cy="569.5" r="7.8"/>
<circle cx="1252" cy="560.7" r="7.8"/>
<circle cx="1250.9" cy="548.7" r="7.8"/>
<circle cx="1247.2" cy="533.3" r="7.8"/>
<circle cx="1253.4" cy="523.7" r="7.8"/>
<circle cx="1253.6" cy="523.7" r="7.8"/>
<circle cx="1251.7" cy="514.6" r="7.8"/>
<circle cx="1251.6" cy="495.4" r="7.8"/>
<circle cx="1248.4" cy="486.1" r="7.8"/>
<circle cx="1253.7" cy="482.4" r="7.8"/>
<circle cx="1251.1" cy="471.4" r="7.8"/>
<circle cx="1247.7" cy="470.9" r="7.8"/>
<circle cx="1248.6" cy="456.1" r="7.8"/>
<circle cx="1249.5" cy="442.9" r="7.8"/>
<circle cx="1253.3" cy="432.1" r="7.8"/>
<circle cx="1258.3" cy="434.3" r="7.8"/>
<circle cx="1254.6" cy="415" r="7.8"/>
<circle cx="1253.6" cy="410.1" r="7.8"/>
<circle cx="1257.9" cy="401.3" r="7.8"/>
<circle cx="1250.3" cy="389.2" r="7.8"/>
<circle cx="1251.1" cy="379.3" r="7.8"/>
<circle cx="1259.5" cy="370.9" r="7.8"/>
<circle cx="1260.4" cy="354.3" r="7.8"/>
<circle cx="1255.5" cy="348.9" r="7.8"/>
<circle cx="1254.6" cy="341" r="7.8"/>
<circle cx="1262" cy="335.5" r="7.8"/>
<circle cx="1257.4" cy="323" r="7.8"/>
<circle cx="1263.8" cy="308.3" r="7.8"/>
<circle cx="1256.5" cy="308.9" r="7.8"/>
<circle cx="1264.1" cy="295.6" r="7.8"/>
<circle cx="1263" cy="292.9" r="7.8"/>
<circle cx="1266" cy="270.8" r="7.8"/>
<circle cx="1264" cy="274.7" r="7.8"/>
<circle cx="1261" cy="256.1" r="7.8"/>
<circle cx="1260.7" cy="242.7" r="7.8"/>
<circle cx="1261.6" cy="239.2" r="7.8"/>
<circle cx="1264.1" cy="226.7" r="7.8"/>
<circle cx="1267.2" cy="224.2" r="7.8"/>
<circle cx="1269.8" cy="228.2" r="7.8"/>
<circle cx="1281.1" cy="237.9" r="7.8"/>
<circle cx="1276.9" cy="250.4" r="7.8"/>
<circle cx="1285.3" cy="256.4" r="7.8"/>
<circle cx="1283.5" cy="266.5" r="7.8"/>
<circle cx="1285.5" cy="281.1" r="7.8"/>
<circle cx="1283.4" cy="278.5" r="7.8"/>
<circle cx="1289.1" cy="294.7" r="7.8"/>
<circle cx="1288" cy="308.6" r="7.8"/>
<circle cx="1288.4" cy="315.7" r="7.8"/>
<circle cx="1289.2" cy="323.7" r="7.8"/>
<circle cx="1298" cy="329.5" r="7.8"/>
<circle cx="1291.8" cy="352.8" r="7.8"/>
<circle cx="1294.2" cy="354.9" r="7.8"/>
<circle cx="1295.5" cy="357.8" r="7.8"/>
<circle cx="1304.2" cy="375.6" r="7.8"/>
<circle cx="1297.2" cy="382.7" r="7.8"/>
<circle cx="1298.1" cy="395.9" r="7.8"/>
<circle cx="1307.8" cy="392.4" r="7.8"/>
<circle cx="1303.3" cy="407.4" r="7.8"/>
<circle cx="1308.5" cy="413" r="7.8"/>
<circle cx="1306" cy="427.6" r="7.8"/>
<circle cx="1308.7" cy="429.3" r="7.8"/>
<circle cx="1312" cy="443.8" r="7.8"/>
<circle cx="1306.6" cy="446.8" r="7.8"/>
<circle cx="1313" cy="461.5" r="7.8"/>
<circle cx="1315.1" cy="471.2" r="7.8"/>
<circle cx="1317.3" cy="480.8" r="7.8"/>
<circle cx="1319.2" cy="485.1" r="7.8"/>
<circle cx="1314.9" cy="504.2" r="7.8"/>
<circle cx="1323.8" cy="510.3" r="7.8"/>
<circle cx="1317.3" cy="521.3" r="7.8"/>
<circle cx="1327.4" cy="523.8" r="7.8"/>
<circle cx="1328.1" cy="531.3" r="7.8"/>
<circle cx="1325.3" cy="542.4" r="7.8"/>
<circle cx="1329.5" cy="548.2" r="7.8"/>
<circle cx="1330.6" cy="563.9" r="7.8"/>
<circle cx="1342.4" cy="571.3" r="7.8"/>
<circle cx="1340.5" cy="583.3" r="7.8"/>
<circle cx="1346.6" cy="588.4" r="7.8"/>
<circle cx="1348.3" cy="597.1" r="7.8"/>
<circle cx="1348" cy="611.4" r="7.8"/>
<circle cx="1352.6" cy="609.4" r="7.8"/>
<circle cx="1363.5" cy="618.5" r="7.8"/>
<circle cx="1366" cy="628.3" r="7.8"/>
<circle cx="1369.1" cy="641" r="7.8"/>
<circle cx="1376.1" cy="652.8" r="7.8"/>
<circle cx="1402.8" cy="585.8" r="7.8"/>
<circle cx="1400.4" cy="588.8" r="7.8"/>
<circle cx="1397.5" cy="576.1" r="7.8"/>
<circle cx="1404.3" cy="573" r="7.8"/>
<circle cx="1405.4" cy="561.5" r="7.8"/>
<circle cx="1409.8" cy="553.6" r="7.8"/>
<circle cx="1406.5" cy="540.2" r="7.8"/>
<circle cx="1407.6" cy="530" r="7.8"/>
<circle cx="1408.4" cy="509.1" r="7.8"/>
<circle cx="1410.2" cy="512.4" r="7.8"/>
<circle cx="1417.7" cy="495.7" r="7.8"/>
<circle cx="1408.7" cy="481.7" r="7.8"/>
<circle cx="1420.6" cy="467.4" r="7.8"/>
<circle cx="1417.5" cy="464.2" r="7.8"/>
<circle cx="1412.1" cy="453.9" r="7.8"/>
<circle cx="1412.7" cy="440.6" r="7.8"/>
<circle cx="1423.6" cy="433.9" r="7.8"/>
<circle cx="1424.9" cy="425.6" r="7.8"/>
<circle cx="1417.3" cy="408" r="7.8"/>
<circle cx="1427.5" cy="398.8" r="7.8"/>
<circle cx="1442" cy="392.4" r="7.8"/>
<circle cx="1443.5" cy="388.7" r="7.8"/>
<circle cx="1455.1" cy="391.4" r="7.8"/>
<circle cx="1458.6" cy="399" r="7.8"/>
<circle cx="1467.8" cy="406.8" r="7.8"/>
<circle cx="1469" cy="410.4" r="7.8"/>
<circle cx="1465.3" cy="418.8" r="7.8"/>
<circle cx="1469.4" cy="431" r="7.8"/>
<circle cx="1473.7" cy="445" r="7.8"/>
<circle cx="1476.1" cy="457.9" r="7.8"/>
<circle cx="1478.6" cy="461.5" r="7.8"/>
<circle cx="1479.3" cy="475.1" r="7.8"/>
<circle cx="1475.9" cy="479.8" r="7.8"/>
<circle cx="1479.1" cy="496.2" r="7.8"/>
<circle cx="1479.2" cy="504.5" r="7.8"/>
<circle cx="1482.9" cy="512.3" r="7.8"/>
<circle cx="1489.1" cy="520.4" r="7.8"/>
<circle cx="1480.7" cy="532.5" r="7.8"/>
<circle cx="1484.8" cy="543.5" r="7.8"/>
<circle cx="1485.1" cy="556.7" r="7.8"/>
<circle cx="1483" cy="566.6" r="7.8"/>
<circle cx="1483.1" cy="575.4" r="7.8"/>
<circle cx="1489.7" cy="584.9" r="7.8"/>
<circle cx="1492.3" cy="598.3" r="7.8"/>
<circle cx="1491.8" cy="609.6" r="7.8"/>
<circle cx="1492.7" cy="616" r="7.8"/>
<circle cx="1485.5" cy="631.6" r="7.8"/>
<circle cx="1493.2" cy="629.1" r="7.8"/>
<circle cx="1503" cy="645.3" r="7.8"/>
<circle cx="1507.6" cy="656.6" r="7.8"/>
<circle cx="1514.6" cy="657.5" r="7.8"/>
<circle cx="1526.8" cy="656.1" r="7.8"/>
<circle cx="1533.2" cy="654.4" r="7.8"/>
<circle cx="1543.7" cy="656.3" r="7.8"/>
<circle cx="1547.8" cy="641.2" r="7.8"/>
<circle cx="1539.2" cy="666.1" r="7.8"/>
<circle cx="1540.7" cy="658.3" r="7.8"/>
<circle cx="1551" cy="650.4" r="7.8"/>
<circle cx="1546" cy="629.5" r="7.8"/>
<circle cx="1545.3" cy="615.5" r="7.8"/>
<circle cx="1552.2" cy="619.4" r="7.8"/>
<circle cx="1554.8" cy="608.2" r="7.8"/>
<circle cx="1555.7" cy="597" r="7.8"/>
<circle cx="1555.3" cy="587.2" r="7.8"/>
<circle cx="1564.1" cy="578.7" r="7.8"/>
<circle cx="1556.2" cy="563.7" r="7.8"/>
<circle cx="1563.5" cy="557.7" r="7.8"/>
<circle cx="1571.3" cy="542.3" r="7.8"/>
<circle cx="1568.4" cy="543" r="7.8"/>
<circle cx="1569" cy="532.1" r="7.8"/>
<circle cx="1568.8" cy="526" r="7.8"/>
<circle cx="1581.1" cy="499.1" r="7.8"/>
<circle cx="1589.6" cy="496.9" r="7.8"/>
<circle cx="1599.6" cy="483.8" r="7.8"/>
<circle cx="1593.6" cy="483.7" r="7.8"/>
<circle cx="1601.8" cy="469.8" r="7.8"/>
<circle cx="1614" cy="461.9" r="7.8"/>
<circle cx="1622.6" cy="444.6" r="7.8"/>
<circle cx="1626.9" cy="443.6" r="7.8"/>
<circle cx="1622.3" cy="430.7" r="7.8"/>
<circle cx="1631.3" cy="423.6" r="7.8"/>
<circle cx="1630.8" cy="418.7" r="7.8"/>
<circle cx="1634.5" cy="407.7" r="7.8"/>
<circle cx="1642.9" cy="391" r="7.8"/>
<circle cx="1639.5" cy="395.1" r="7.8"/>
<circle cx="1651.9" cy="388.9" r="7.8"/>
<circle cx="1675.7" cy="406.6" r="7.8"/>
<circle cx="1668.6" cy="412.2" r="7.8"/>
<circle cx="1673.2" cy="430.3" r="7.8"/>
<circle cx="1672.3" cy="430.7" r="7.8"/>
<circle cx="1682.3" cy="442" r="7.8"/>
<circle cx="1678.8" cy="452.1" r="7.8"/>
<circle cx="1685.2" cy="461.5" r="7.8"/>
<circle cx="1682.1" cy="481" r="7.8"/>
<circle cx="1677.6" cy="487.7" r="7.8"/>
<circle cx="1682.2" cy="503.3" r="7.8"/>
<circle cx="1682.9" cy="509.4" r="7.8"/>
<circle cx="1686.2" cy="525" r="7.8"/>
<circle cx="1685.2" cy="525.1" r="7.8"/>
<circle cx="1685" cy="536.7" r="7.8"/>
</g>
<g fill="#d4d4d4" stroke="#d4d4d4" stroke-width="8" stroke-linejoin="round">
<polygon points="1268,222 1274,222 1283,262 1295,340 1309,440 1326,540 1346,592 1368,640 1376,662 1381,690 1383,700 1320,701 1250,698 1196,692 1196,684 1207,676 1232,660 1247,640 1250,540 1253,440 1257,340 1262,262"/>
<polygon points="1385,700 1391,660 1399,600 1407,540 1413,490 1419,440 1423,405 1432,392 1450,388 1466,400 1473,440 1480,490 1485,540 1488,590 1490,628 1500,650 1520,660 1538,654 1552,642 1560,674 1600,672 1640,662 1680,640 1700,625 1718,611 1757,592 1764,596 1742,618 1700,650 1655,672 1600,688 1540,698 1480,700 1440,701"/>
<polygon points="1639,322 1636,360 1634,400 1627,440 1609,470 1588,492 1570,522 1558,580 1548,640 1543,668 1690,640 1690,585 1688,540 1682,470 1671,420 1660,390 1656,350 1652,322"/>
<path d="M1684,579 L1716,535 M1676,560 L1699,538 M1667,521 L1692,487 M1690,600 L1728,566 M1672,470 L1688,450" fill="none" stroke-width="11" stroke-linecap="round"/>
</g>
<circle cx="1634" cy="160" r="17" fill="#a6cfe3" stroke="#cccccc" stroke-width="7"/>
<circle cx="1640" cy="405" r="14" fill="#a6cfe3" stroke="#d0d0d0" stroke-width="5"/>
<circle cx="1648.9" cy="415" r="9.5" fill="#d4d4d4"/>
<circle cx="1650" cy="400" r="14" fill="#a6cfe3" stroke="#d0d0d0" stroke-width="5"/>
<circle cx="1658" cy="406.9" r="9.5" fill="#d4d4d4"/>
<circle cx="1632" cy="415" r="14" fill="#a6cfe3" stroke="#d0d0d0" stroke-width="5"/>
<circle cx="1640.4" cy="421.9" r="9.5" fill="#d4d4d4"/>
<circle cx="1655" cy="440" r="14" fill="#a6cfe3" stroke="#d0d0d0" stroke-width="5"/>
<circle cx="1665.9" cy="447.5" r="9.5" fill="#d4d4d4"/>
<circle cx="1645" cy="450" r="14" fill="#a6cfe3" stroke="#d0d0d0" stroke-width="5"/>
<circle cx="1654.2" cy="456.6" r="9.5" fill="#d4d4d4"/>
<circle cx="1635" cy="447" r="14" fill="#a6cfe3" stroke="#d0d0d0" stroke-width="5"/>
<circle cx="1600" cy="487" r="14" fill="#a6cfe3" stroke="#d0d0d0" stroke-width="5"/>
<circle cx="1609.1" cy="494.9" r="9.5" fill="#d4d4d4"/>
<circle cx="1645" cy="480" r="14" fill="#a6cfe3" stroke="#d0d0d0" stroke-width="5"/>
<circle cx="1653.6" cy="486.3" r="9.5" fill="#d4d4d4"/>
<circle cx="1580" cy="520" r="14" fill="#a6cfe3" stroke="#d0d0d0" stroke-width="5"/>
<circle cx="1610" cy="540" r="14" fill="#a6cfe3" stroke="#d0d0d0" stroke-width="5"/>
<circle cx="1617.5" cy="550.1" r="9.5" fill="#d4d4d4"/>
<circle cx="1640" cy="540" r="14" fill="#a6cfe3" stroke="#d0d0d0" stroke-width="5"/>
<circle cx="1648.4" cy="547.2" r="9.5" fill="#d4d4d4"/>
<circle cx="1675" cy="545" r="14" fill="#a6cfe3" stroke="#d0d0d0" stroke-width="5"/>
<circle cx="1575" cy="570" r="14" fill="#a6cfe3" stroke="#d0d0d0" stroke-width="5"/>
<circle cx="1562" cy="585" r="14" fill="#a6cfe3" stroke="#d0d0d0" stroke-width="5"/>
<circle cx="1569.8" cy="592.4" r="9.5" fill="#d4d4d4"/>
<circle cx="1597" cy="597" r="14" fill="#a6cfe3" stroke="#d0d0d0" stroke-width="5"/>
<circle cx="1604.9" cy="603.2" r="9.5" fill="#d4d4d4"/>
<circle cx="1620" cy="580" r="14" fill="#a6cfe3" stroke="#d0d0d0" stroke-width="5"/>
<circle cx="1629.7" cy="587.7" r="9.5" fill="#d4d4d4"/>
<circle cx="1645" cy="580" r="14" fill="#a6cfe3" stroke="#d0d0d0" stroke-width="5"/>
<circle cx="1652.6" cy="589.5" r="9.5" fill="#d4d4d4"/>
<circle cx="1665" cy="590" r="14" fill="#a6cfe3" stroke="#d0d0d0" stroke-width="5"/>
<circle cx="1672.4" cy="597.3" r="9.5" fill="#d4d4d4"/>
<circle cx="1560" cy="600" r="14" fill="#a6cfe3" stroke="#d0d0d0" stroke-width="5"/>
<circle cx="1630" cy="615" r="14" fill="#a6cfe3" stroke="#d0d0d0" stroke-width="5"/>
<circle cx="1640.3" cy="621.6" r="9.5" fill="#d4d4d4"/>
<circle cx="1600" cy="615" r="14" fill="#a6cfe3" stroke="#d0d0d0" stroke-width="5"/>
<circle cx="1608.8" cy="625.2" r="9.5" fill="#d4d4d4"/>
<circle cx="1485" cy="640" r="14" fill="#a6cfe3" stroke="#d0d0d0" stroke-width="5"/>
<circle cx="1495.2" cy="646.8" r="9.5" fill="#d4d4d4"/>
<circle cx="1475" cy="660" r="14" fill="#a6cfe3" stroke="#d0d0d0" stroke-width="5"/>
<circle cx="1483.4" cy="669.6" r="9.5" fill="#d4d4d4"/>
<circle cx="1510" cy="677" r="14" fill="#a6cfe3" stroke="#d0d0d0" stroke-width="5"/>
<circle cx="1545" cy="660" r="14" fill="#a6cfe3" stroke="#d0d0d0" stroke-width="5"/>
<circle cx="1580" cy="640" r="14" fill="#a6cfe3" stroke="#d0d0d0" stroke-width="5"/>
<circle cx="1610" cy="640" r="14" fill="#a6cfe3" stroke="#d0d0d0" stroke-width="5"/>
<circle cx="1640" cy="630" r="14" fill="#a6cfe3" stroke="#d0d0d0" stroke-width="5"/>
<circle cx="1648.5" cy="640.8" r="9.5" fill="#d4d4d4"/>
<circle cx="1670" cy="650" r="14" fill="#a6cfe3" stroke="#d0d0d0" stroke-width="5"/>
<circle cx="1677.8" cy="660.8" r="9.5" fill="#d4d4d4"/>
<circle cx="1660" cy="665" r="14" fill="#a6cfe3" stroke="#d0d0d0" stroke-width="5"/>
<circle cx="1690" cy="640" r="14" fill="#a6cfe3" stroke="#d0d0d0" stroke-width="5"/>
<circle cx="1699" cy="647.1" r="9.5" fill="#d4d4d4"/>
</g>
<line x1="1015.5" y1="63" x2="1015.5" y2="728.5" stroke="#000" stroke-width="3.5"/>
<line x1="1014" y1="727" x2="1804" y2="727" stroke="#000" stroke-width="3.5"/>
<line x1="1006.5" y1="72.5" x2="1014" y2="72.5" stroke="#333" stroke-width="3.4"/>
<text x="998.8" y="80.8" font-size="25.4" text-anchor="end" fill="#4d4d4d">300</text>
<line x1="1006.5" y1="280.8" x2="1014" y2="280.8" stroke="#333" stroke-width="3.4"/>
<text x="998.8" y="289.1" font-size="25.4" text-anchor="end" fill="#4d4d4d">200</text>
<line x1="1006.5" y1="489.1" x2="1014" y2="489.1" stroke="#333" stroke-width="3.4"/>
<text x="998.8" y="497.4" font-size="25.4" text-anchor="end" fill="#4d4d4d">100</text>
<line x1="1006.5" y1="697.4" x2="1014" y2="697.4" stroke="#333" stroke-width="3.4"/>
<text x="998.8" y="705.7" font-size="25.4" text-anchor="end" fill="#4d4d4d">0</text>
<line x1="1134.8" y1="729" x2="1134.8" y2="736.5" stroke="#333" stroke-width="3.3"/>
<text x="1134.8" y="766.5" font-size="25.4" text-anchor="middle" fill="#4d4d4d">-10</text>
<line x1="1381.3" y1="729" x2="1381.3" y2="736.5" stroke="#333" stroke-width="3.3"/>
<text x="1381.3" y="766.5" font-size="25.4" text-anchor="middle" fill="#4d4d4d">0</text>
<line x1="1627.8" y1="729" x2="1627.8" y2="736.5" stroke="#333" stroke-width="3.3"/>
<text x="1627.8" y="766.5" font-size="25.4" text-anchor="middle" fill="#4d4d4d">10</text>
<line x1="1357" y1="54.2" x2="1357" y2="727" stroke="#000" stroke-width="2.8" stroke-dasharray="17.2 17.35"/>
<line x1="1406.2" y1="54.2" x2="1406.2" y2="727" stroke="#000" stroke-width="4.2" stroke-dasharray="17.2 17.35"/>
<line x1="1013.6" y1="695" x2="1795" y2="695" stroke="#000" stroke-width="3.5" stroke-dasharray="17.5 17.5"/>
<circle cx="1568" cy="673" r="15.9" fill="#a6cfe3" stroke="#e6000a" stroke-width="7.6"/>
<circle cx="1590.5" cy="665.5" r="15.9" fill="#a6cfe3" stroke="#e6000a" stroke-width="7.6"/>
<circle cx="1613.5" cy="658.5" r="15.9" fill="#a6cfe3" stroke="#e6000a" stroke-width="7.6"/>
<circle cx="1632" cy="629.5" r="15.9" fill="#a6cfe3" stroke="#e6000a" stroke-width="7.6"/>
<circle cx="1644.5" cy="647.5" r="15.9" fill="#a6cfe3" stroke="#e6000a" stroke-width="7.6"/>
<circle cx="1663" cy="642.5" r="15.9" fill="#a6cfe3" stroke="#e6000a" stroke-width="7.6"/>
<circle cx="1674" cy="635.5" r="15.9" fill="#a6cfe3" stroke="#e6000a" stroke-width="7.6"/>
<circle cx="1712" cy="620.5" r="15.9" fill="#a6cfe3" stroke="#e6000a" stroke-width="7.6"/>
<circle cx="1765" cy="363" r="16.1" fill="none" stroke="#e6000a" stroke-width="5.5"/>
<text x="1797.6" y="372.8" font-size="29">PKS gene</text>
<circle cx="1765.2" cy="425.5" r="16.7" fill="#a6cfe3"/>
<text x="1797.6" y="435" font-size="29"><tspan font-style="italic">B. velezensis</tspan> gene</text>
<text x="1409.6" y="802.3" font-size="29" text-anchor="middle">Log<tspan font-size="16" dy="10.4">2</tspan><tspan dy="-10.4">&#8203;</tspan> (FoldChange)</text>
<text x="928.8" y="395" font-size="29" text-anchor="middle" transform="rotate(-90 928.8 395)">-Log<tspan font-size="16" dy="10.4">10</tspan><tspan dy="-10.4">&#8203;</tspan>(<tspan font-style="italic">P</tspan>-value)</text>
<text x="335.8" y="873.4" font-size="32.4">Sample group</text>
<rect x="590.2" y="845.9" width="38" height="37" fill="#5cb85c" stroke="#111" stroke-width="3"/>
<text x="636.3" y="871" font-size="26">A: <tspan font-style="italic">Bacillus</tspan></text>
<rect x="791.7" y="845.9" width="38" height="37" fill="#44b4d9" stroke="#111" stroke-width="3"/>
<text x="837.9" y="871" font-size="26">B: <tspan font-style="italic">Bacillus+Naegleria</tspan></text>
<rect x="1100.1" y="845.9" width="38" height="37" fill="#d9403a" stroke="#111" stroke-width="3"/>
<text x="1145.7" y="871" font-size="26">C: SynCom</text>
<rect x="1301.1" y="845.9" width="38" height="37" fill="#efa236" stroke="#111" stroke-width="3"/>
<text x="1347.3" y="871" font-size="26">D: SynCom+<tspan font-style="italic">Naegleria</tspan></text>
<text x="2.6" y="924.6" font-size="46" font-weight="bold">c</text>
<text x="314.5" y="921.6" font-size="31" text-anchor="middle"><tspan font-weight="bold" font-style="italic">epsA-O</tspan><tspan font-weight="bold"> operon</tspan></text>
<line x1="118.4" y1="943.3" x2="511.8" y2="943.3" stroke="#222" stroke-width="2"/>
<text x="25.2" y="1191.6" font-size="29" text-anchor="middle" transform="rotate(-90 25.2 1191.6)">Total gene expression</text>
<text x="127.5" y="987.8" font-size="29"><tspan font-style="italic">epsD</tspan></text>
<line x1="127.5" y1="1009.4" x2="127.5" y2="1177.7" stroke="#222" stroke-width="2.8"/>
<line x1="120.5" y1="1014.3" x2="127.5" y2="1014.3" stroke="#333" stroke-width="3"/>
<text x="115.3" y="1022.8" font-size="25" text-anchor="end" fill="#4d4d4d">8400</text>
<line x1="120.5" y1="1054.2" x2="127.5" y2="1054.2" stroke="#333" stroke-width="3"/>
<text x="115.3" y="1062.7" font-size="25" text-anchor="end" fill="#4d4d4d">7550</text>
<line x1="120.5" y1="1094.4" x2="127.5" y2="1094.4" stroke="#333" stroke-width="3"/>
<text x="115.3" y="1102.9" font-size="25" text-anchor="end" fill="#4d4d4d">6700</text>
<line x1="120.5" y1="1135.7" x2="127.5" y2="1135.7" stroke="#333" stroke-width="3"/>
<text x="115.3" y="1144.2" font-size="25" text-anchor="end" fill="#4d4d4d">5850</text>
<line x1="120.5" y1="1176.4" x2="127.5" y2="1176.4" stroke="#333" stroke-width="3"/>
<text x="115.3" y="1184.9" font-size="25" text-anchor="end" fill="#4d4d4d">5000</text>
<line x1="127.5" y1="1211" x2="127.5" y2="1366" stroke="#222" stroke-width="2.8"/>
<line x1="120.5" y1="1211.6" x2="127.5" y2="1211.6" stroke="#333" stroke-width="3"/>
<text x="115.3" y="1220.1" font-size="25" text-anchor="end" fill="#4d4d4d">85</text>
<line x1="120.5" y1="1257.2" x2="127.5" y2="1257.2" stroke="#333" stroke-width="3"/>
<text x="115.3" y="1265.7" font-size="25" text-anchor="end" fill="#4d4d4d">60</text>
<line x1="120.5" y1="1310.6" x2="127.5" y2="1310.6" stroke="#333" stroke-width="3"/>
<text x="115.3" y="1319.1" font-size="25" text-anchor="end" fill="#4d4d4d">30</text>
<line x1="120.5" y1="1364.6" x2="127.5" y2="1364.6" stroke="#333" stroke-width="3"/>
<text x="115.3" y="1373.1" font-size="25" text-anchor="end" fill="#4d4d4d">0</text>
<rect x="160.6" y="1211.6" width="45.2" height="153" fill="#5cb85c"/>
<line x1="160.6" y1="1211.6" x2="160.6" y2="1364.6" stroke="#111" stroke-width="3"/>
<line x1="205.8" y1="1211.6" x2="205.8" y2="1364.6" stroke="#111" stroke-width="3"/>
<rect x="160.6" y="1127.5" width="45.2" height="48.9" fill="#5cb85c"/>
<path d="M160.6,1177.6 V1127.5 H205.8 V1177.6" fill="none" stroke="#111" stroke-width="3"/>
<rect x="253" y="1211.6" width="45.2" height="153" fill="#44b4d9"/>
<line x1="253" y1="1211.6" x2="253" y2="1364.6" stroke="#111" stroke-width="3"/>
<line x1="298.2" y1="1211.6" x2="298.2" y2="1364.6" stroke="#111" stroke-width="3"/>
<rect x="253" y="1025.5" width="45.2" height="150.9" fill="#44b4d9"/>
<path d="M253,1177.6 V1025.5 H298.2 V1177.6" fill="none" stroke="#111" stroke-width="3"/>
<line x1="343.7" y1="1363.5" x2="391.9" y2="1363.5" stroke="#111" stroke-width="2.5"/>
<rect x="438" y="1235" width="45.2" height="129.6" fill="#efa236" stroke="#111" stroke-width="3"/>
<line x1="118.5" y1="1364.6" x2="516" y2="1364.6" stroke="#222" stroke-width="2.8"/>
<line x1="118.5" y1="1176.4" x2="516" y2="1176.4" stroke="#000" stroke-width="2.7" stroke-dasharray="9 7.5"/>
<circle cx="185.8" cy="1048.3" r="3.9" fill="#cb98a9"/>
<circle cx="176" cy="1140" r="3.9" fill="#cb98a9"/>
<circle cx="189.4" cy="1135.7" r="3.9" fill="#cb98a9"/>
<circle cx="176" cy="1170" r="3.9" fill="#cb98a9"/>
<line x1="183.2" y1="1099.3" x2="183.2" y2="1154.5" stroke="#000" stroke-width="3"/>
<line x1="174.2" y1="1099.3" x2="192.2" y2="1099.3" stroke="#000" stroke-width="3"/>
<line x1="174.2" y1="1154.5" x2="192.2" y2="1154.5" stroke="#000" stroke-width="3"/>
<text x="182" y="1090.3" font-size="25" text-anchor="middle">b</text>
<circle cx="286" cy="1001" r="3.9" fill="#cb98a9"/>
<circle cx="280" cy="1014.3" r="3.9" fill="#cb98a9"/>
<circle cx="285.4" cy="1029.5" r="3.9" fill="#cb98a9"/>
<circle cx="266" cy="1045" r="3.9" fill="#cb98a9"/>
<line x1="275.6" y1="1016" x2="275.6" y2="1032.5" stroke="#000" stroke-width="3"/>
<line x1="266.6" y1="1016" x2="284.6" y2="1016" stroke="#000" stroke-width="3"/>
<line x1="266.6" y1="1032.5" x2="284.6" y2="1032.5" stroke="#000" stroke-width="3"/>
<text x="273.2" y="1008.3" font-size="25" text-anchor="middle">a</text>
<circle cx="370" cy="1362" r="3.9" fill="#cb98a9"/>
<circle cx="374" cy="1362" r="3.9" fill="#cb98a9"/>
<circle cx="378" cy="1362" r="3.9" fill="#cb98a9"/>
<circle cx="381" cy="1362" r="3.9" fill="#cb98a9"/>
<text x="367.3" y="1355.6" font-size="25" text-anchor="middle">d</text>
<circle cx="459.6" cy="1206" r="3.9" fill="#cb98a9"/>
<circle cx="451.7" cy="1233.5" r="3.9" fill="#cb98a9"/>
<circle cx="468.7" cy="1250" r="3.9" fill="#cb98a9"/>
<circle cx="450.5" cy="1262.6" r="3.9" fill="#cb98a9"/>
<line x1="460.6" y1="1216.5" x2="460.6" y2="1251.7" stroke="#000" stroke-width="3"/>
<line x1="451.6" y1="1216.5" x2="469.6" y2="1216.5" stroke="#000" stroke-width="3"/>
<line x1="451.6" y1="1251.7" x2="469.6" y2="1251.7" stroke="#000" stroke-width="3"/>
<text x="459.6" y="1208.1" font-size="25" text-anchor="middle">c</text>
<line x1="183.2" y1="1366" x2="183.2" y2="1372" stroke="#333" stroke-width="2.8"/>
<line x1="275.6" y1="1366" x2="275.6" y2="1372" stroke="#333" stroke-width="2.8"/>
<line x1="367.8" y1="1366" x2="367.8" y2="1372" stroke="#333" stroke-width="2.8"/>
<line x1="460.6" y1="1366" x2="460.6" y2="1372" stroke="#333" stroke-width="2.8"/>
<text x="183.2" y="1392.6" font-size="25" text-anchor="middle" fill="#4d4d4d">A</text>
<text x="275.6" y="1392.6" font-size="25" text-anchor="middle" fill="#4d4d4d">B</text>
<text x="367.8" y="1392.6" font-size="25" text-anchor="middle" fill="#4d4d4d">C</text>
<text x="460.6" y="1392.6" font-size="25" text-anchor="middle" fill="#4d4d4d">D</text>
<text x="571.2" y="924.3" font-size="43" font-weight="bold">d</text>
<text x="1320.3" y="921.6" font-size="31" text-anchor="middle"><tspan font-weight="bold" font-style="italic">tapA-sipW-tasA</tspan><tspan font-weight="bold"> operon</tspan></text>
<line x1="625.4" y1="943.3" x2="2017" y2="943.3" stroke="#222" stroke-width="2"/>
<text x="629.6" y="987.8" font-size="29"><tspan font-style="italic">tapA</tspan></text>
<line x1="629.3" y1="1009.4" x2="629.3" y2="1177.7" stroke="#222" stroke-width="2.8"/>
<line x1="622.3" y1="1014.3" x2="629.3" y2="1014.3" stroke="#333" stroke-width="3"/>
<text x="617.1" y="1022.8" font-size="25" text-anchor="end" fill="#4d4d4d">8400</text>
<line x1="622.3" y1="1054.2" x2="629.3" y2="1054.2" stroke="#333" stroke-width="3"/>
<text x="617.1" y="1062.7" font-size="25" text-anchor="end" fill="#4d4d4d">7550</text>
<line x1="622.3" y1="1094.4" x2="629.3" y2="1094.4" stroke="#333" stroke-width="3"/>
<text x="617.1" y="1102.9" font-size="25" text-anchor="end" fill="#4d4d4d">6700</text>
<line x1="622.3" y1="1135.7" x2="629.3" y2="1135.7" stroke="#333" stroke-width="3"/>
<text x="617.1" y="1144.2" font-size="25" text-anchor="end" fill="#4d4d4d">5850</text>
<line x1="622.3" y1="1176.4" x2="629.3" y2="1176.4" stroke="#333" stroke-width="3"/>
<text x="617.1" y="1184.9" font-size="25" text-anchor="end" fill="#4d4d4d">5000</text>
<line x1="629.3" y1="1211" x2="629.3" y2="1366" stroke="#222" stroke-width="2.8"/>
<line x1="622.3" y1="1211.6" x2="629.3" y2="1211.6" stroke="#333" stroke-width="3"/>
<text x="617.1" y="1220.1" font-size="25" text-anchor="end" fill="#4d4d4d">20</text>
<line x1="622.3" y1="1287.5" x2="629.3" y2="1287.5" stroke="#333" stroke-width="3"/>
<text x="617.1" y="1296" font-size="25" text-anchor="end" fill="#4d4d4d">10</text>
<line x1="622.3" y1="1364.6" x2="629.3" y2="1364.6" stroke="#333" stroke-width="3"/>
<text x="617.1" y="1373.1" font-size="25" text-anchor="end" fill="#4d4d4d">0</text>
<rect x="662" y="1211.6" width="45.6" height="153" fill="#5cb85c"/>
<line x1="662" y1="1211.6" x2="662" y2="1364.6" stroke="#111" stroke-width="3"/>
<line x1="707.6" y1="1211.6" x2="707.6" y2="1364.6" stroke="#111" stroke-width="3"/>
<rect x="662" y="1115.4" width="45.6" height="61" fill="#5cb85c"/>
<path d="M662,1177.6 V1115.4 H707.6 V1177.6" fill="none" stroke="#111" stroke-width="3"/>
<rect x="754.2" y="1211.6" width="45.6" height="153" fill="#44b4d9"/>
<line x1="754.2" y1="1211.6" x2="754.2" y2="1364.6" stroke="#111" stroke-width="3"/>
<line x1="799.8" y1="1211.6" x2="799.8" y2="1364.6" stroke="#111" stroke-width="3"/>
<rect x="754.2" y="1148.2" width="45.6" height="28.2" fill="#44b4d9"/>
<path d="M754.2,1177.6 V1148.2 H799.8 V1177.6" fill="none" stroke="#111" stroke-width="3"/>
<line x1="844.2" y1="1363.5" x2="892.8" y2="1363.5" stroke="#111" stroke-width="2.5"/>
<rect x="939.4" y="1275.7" width="45.6" height="88.9" fill="#efa236" stroke="#111" stroke-width="3"/>
<line x1="620.3" y1="1364.6" x2="1018" y2="1364.6" stroke="#222" stroke-width="2.8"/>
<line x1="620.3" y1="1176.4" x2="1018" y2="1176.4" stroke="#000" stroke-width="2.7" stroke-dasharray="9 7.5"/>
<circle cx="694" cy="1058.6" r="3.9" fill="#cb98a9"/>
<circle cx="669" cy="1112" r="3.9" fill="#cb98a9"/>
<circle cx="686" cy="1127" r="3.9" fill="#cb98a9"/>
<circle cx="697" cy="1160" r="3.9" fill="#cb98a9"/>
<line x1="684.8" y1="1092.6" x2="684.8" y2="1135.1" stroke="#000" stroke-width="3"/>
<line x1="675.8" y1="1092.6" x2="693.8" y2="1092.6" stroke="#000" stroke-width="3"/>
<line x1="675.8" y1="1135.1" x2="693.8" y2="1135.1" stroke="#000" stroke-width="3"/>
<text x="683" y="1083.6" font-size="25" text-anchor="middle">a</text>
<circle cx="782" cy="1105.4" r="3.9" fill="#cb98a9"/>
<circle cx="774" cy="1114.5" r="3.9" fill="#cb98a9"/>
<circle cx="782" cy="1160" r="3.9" fill="#cb98a9"/>
<circle cx="790.5" cy="1176.4" r="3.9" fill="#cb98a9"/>
<line x1="777" y1="1125.4" x2="777" y2="1167.9" stroke="#000" stroke-width="3"/>
<line x1="768" y1="1125.4" x2="786" y2="1125.4" stroke="#000" stroke-width="3"/>
<line x1="768" y1="1167.9" x2="786" y2="1167.9" stroke="#000" stroke-width="3"/>
<text x="775.4" y="1117" font-size="25" text-anchor="middle">a</text>
<circle cx="868.2" cy="1362" r="3.9" fill="#cb98a9"/>
<circle cx="880.4" cy="1362" r="3.9" fill="#cb98a9"/>
<text x="868.2" y="1355.3" font-size="25" text-anchor="middle">c</text>
<circle cx="946" cy="1256.6" r="3.9" fill="#cb98a9"/>
<circle cx="952.6" cy="1250.5" r="3.9" fill="#cb98a9"/>
<circle cx="952.6" cy="1263" r="3.9" fill="#cb98a9"/>
<circle cx="960" cy="1319" r="3.9" fill="#cb98a9"/>
<line x1="962.2" y1="1257.2" x2="962.2" y2="1291.8" stroke="#000" stroke-width="3"/>
<line x1="953.2" y1="1257.2" x2="971.2" y2="1257.2" stroke="#000" stroke-width="3"/>
<line x1="953.2" y1="1291.8" x2="971.2" y2="1291.8" stroke="#000" stroke-width="3"/>
<text x="961" y="1248.1" font-size="25" text-anchor="middle">b</text>
<line x1="684.8" y1="1366" x2="684.8" y2="1372" stroke="#333" stroke-width="2.8"/>
<line x1="777" y1="1366" x2="777" y2="1372" stroke="#333" stroke-width="2.8"/>
<line x1="868.5" y1="1366" x2="868.5" y2="1372" stroke="#333" stroke-width="2.8"/>
<line x1="962.2" y1="1366" x2="962.2" y2="1372" stroke="#333" stroke-width="2.8"/>
<text x="684.8" y="1392.6" font-size="25" text-anchor="middle" fill="#4d4d4d">A</text>
<text x="777" y="1392.6" font-size="25" text-anchor="middle" fill="#4d4d4d">B</text>
<text x="868.5" y="1392.6" font-size="25" text-anchor="middle" fill="#4d4d4d">C</text>
<text x="962.2" y="1392.6" font-size="25" text-anchor="middle" fill="#4d4d4d">D</text>
<text x="1131.1" y="987.8" font-size="29"><tspan font-style="italic">sipW</tspan></text>
<line x1="1130.7" y1="1009.4" x2="1130.7" y2="1177.7" stroke="#222" stroke-width="2.8"/>
<line x1="1123.7" y1="1033.1" x2="1130.7" y2="1033.1" stroke="#333" stroke-width="3"/>
<text x="1118.5" y="1041.6" font-size="25" text-anchor="end" fill="#4d4d4d">8760</text>
<line x1="1123.7" y1="1068.9" x2="1130.7" y2="1068.9" stroke="#333" stroke-width="3"/>
<text x="1118.5" y="1077.4" font-size="25" text-anchor="end" fill="#4d4d4d">7820</text>
<line x1="1123.7" y1="1104.2" x2="1130.7" y2="1104.2" stroke="#333" stroke-width="3"/>
<text x="1118.5" y="1112.7" font-size="25" text-anchor="end" fill="#4d4d4d">6880</text>
<line x1="1123.7" y1="1140.6" x2="1130.7" y2="1140.6" stroke="#333" stroke-width="3"/>
<text x="1118.5" y="1149.1" font-size="25" text-anchor="end" fill="#4d4d4d">5940</text>
<line x1="1123.7" y1="1176.4" x2="1130.7" y2="1176.4" stroke="#333" stroke-width="3"/>
<text x="1118.5" y="1184.9" font-size="25" text-anchor="end" fill="#4d4d4d">5000</text>
<line x1="1130.7" y1="1211" x2="1130.7" y2="1366" stroke="#222" stroke-width="2.8"/>
<line x1="1123.7" y1="1211.6" x2="1130.7" y2="1211.6" stroke="#333" stroke-width="3"/>
<text x="1118.5" y="1220.1" font-size="25" text-anchor="end" fill="#4d4d4d">40</text>
<line x1="1123.7" y1="1287.5" x2="1130.7" y2="1287.5" stroke="#333" stroke-width="3"/>
<text x="1118.5" y="1296" font-size="25" text-anchor="end" fill="#4d4d4d">20</text>
<line x1="1123.7" y1="1364.6" x2="1130.7" y2="1364.6" stroke="#333" stroke-width="3"/>
<text x="1118.5" y="1373.1" font-size="25" text-anchor="end" fill="#4d4d4d">0</text>
<rect x="1163.5" y="1211.6" width="45.5" height="153" fill="#5cb85c"/>
<line x1="1163.5" y1="1211.6" x2="1163.5" y2="1364.6" stroke="#111" stroke-width="3"/>
<line x1="1209" y1="1211.6" x2="1209" y2="1364.6" stroke="#111" stroke-width="3"/>
<rect x="1163.5" y="1130.5" width="45.5" height="45.9" fill="#5cb85c"/>
<path d="M1163.5,1177.6 V1130.5 H1209 V1177.6" fill="none" stroke="#111" stroke-width="3"/>
<rect x="1256.3" y="1211.6" width="45.5" height="153" fill="#44b4d9"/>
<line x1="1256.3" y1="1211.6" x2="1256.3" y2="1364.6" stroke="#111" stroke-width="3"/>
<line x1="1301.8" y1="1211.6" x2="1301.8" y2="1364.6" stroke="#111" stroke-width="3"/>
<rect x="1256.3" y="1017.5" width="45.5" height="158.9" fill="#44b4d9"/>
<path d="M1256.3,1177.6 V1017.5 H1301.8 V1177.6" fill="none" stroke="#111" stroke-width="3"/>
<line x1="1346.2" y1="1363.5" x2="1394.7" y2="1363.5" stroke="#111" stroke-width="2.5"/>
<rect x="1441" y="1248.3" width="45.5" height="116.3" fill="#efa236" stroke="#111" stroke-width="3"/>
<line x1="1121.7" y1="1364.6" x2="1519" y2="1364.6" stroke="#222" stroke-width="2.8"/>
<line x1="1121.7" y1="1176.4" x2="1519" y2="1176.4" stroke="#000" stroke-width="2.7" stroke-dasharray="9 7.5"/>
<circle cx="1181" cy="1072" r="3.9" fill="#cb98a9"/>
<circle cx="1179" cy="1135.7" r="3.9" fill="#cb98a9"/>
<circle cx="1185" cy="1140.6" r="3.9" fill="#cb98a9"/>
<circle cx="1179" cy="1162.4" r="3.9" fill="#cb98a9"/>
<line x1="1186.3" y1="1112.7" x2="1186.3" y2="1146.7" stroke="#000" stroke-width="3"/>
<line x1="1177.3" y1="1112.7" x2="1195.3" y2="1112.7" stroke="#000" stroke-width="3"/>
<line x1="1177.3" y1="1146.7" x2="1195.3" y2="1146.7" stroke="#000" stroke-width="3"/>
<text x="1185" y="1103.6" font-size="25" text-anchor="middle">b</text>
<circle cx="1290" cy="1008" r="3.9" fill="#cb98a9"/>
<circle cx="1285.3" cy="1014.3" r="3.9" fill="#cb98a9"/>
<circle cx="1270" cy="1019.8" r="3.9" fill="#cb98a9"/>
<circle cx="1287" cy="1024.6" r="3.9" fill="#cb98a9"/>
<line x1="1279.1" y1="1014.3" x2="1279.1" y2="1019" stroke="#000" stroke-width="3"/>
<line x1="1270.1" y1="1014.3" x2="1288.1" y2="1014.3" stroke="#000" stroke-width="3"/>
<line x1="1270.1" y1="1019" x2="1288.1" y2="1019" stroke="#000" stroke-width="3"/>
<text x="1276.2" y="1005.3" font-size="25" text-anchor="middle">a</text>
<circle cx="1354.5" cy="1363.4" r="3.9" fill="#cb98a9"/>
<circle cx="1358" cy="1363.4" r="3.9" fill="#cb98a9"/>
<circle cx="1379.4" cy="1363.4" r="3.9" fill="#cb98a9"/>
<circle cx="1386" cy="1363.4" r="3.9" fill="#cb98a9"/>
<text x="1370" y="1354.3" font-size="25" text-anchor="middle">d</text>
<circle cx="1471" cy="1211.6" r="3.9" fill="#cb98a9"/>
<circle cx="1452.3" cy="1243" r="3.9" fill="#cb98a9"/>
<circle cx="1463" cy="1267.5" r="3.9" fill="#cb98a9"/>
<circle cx="1468.7" cy="1284.5" r="3.9" fill="#cb98a9"/>
<line x1="1463.8" y1="1225" x2="1463.8" y2="1268.7" stroke="#000" stroke-width="3"/>
<line x1="1454.8" y1="1225" x2="1472.8" y2="1225" stroke="#000" stroke-width="3"/>
<line x1="1454.8" y1="1268.7" x2="1472.8" y2="1268.7" stroke="#000" stroke-width="3"/>
<text x="1462" y="1216" font-size="25" text-anchor="middle">c</text>
<line x1="1186.3" y1="1366" x2="1186.3" y2="1372" stroke="#333" stroke-width="2.8"/>
<line x1="1279.1" y1="1366" x2="1279.1" y2="1372" stroke="#333" stroke-width="2.8"/>
<line x1="1370.4" y1="1366" x2="1370.4" y2="1372" stroke="#333" stroke-width="2.8"/>
<line x1="1463.8" y1="1366" x2="1463.8" y2="1372" stroke="#333" stroke-width="2.8"/>
<text x="1186.3" y="1392.6" font-size="25" text-anchor="middle" fill="#4d4d4d">A</text>
<text x="1279.1" y="1392.6" font-size="25" text-anchor="middle" fill="#4d4d4d">B</text>
<text x="1370.4" y="1392.6" font-size="25" text-anchor="middle" fill="#4d4d4d">C</text>
<text x="1463.8" y="1392.6" font-size="25" text-anchor="middle" fill="#4d4d4d">D</text>
<text x="1658.7" y="987.8" font-size="29"><tspan font-style="italic">tasA</tspan></text>
<line x1="1658.2" y1="1009.4" x2="1658.2" y2="1177.7" stroke="#222" stroke-width="2.8"/>
<line x1="1651.2" y1="1036.8" x2="1658.2" y2="1036.8" stroke="#333" stroke-width="3"/>
<text x="1646" y="1045.3" font-size="25" text-anchor="end" fill="#4d4d4d">121000</text>
<line x1="1651.2" y1="1071.4" x2="1658.2" y2="1071.4" stroke="#333" stroke-width="3"/>
<text x="1646" y="1079.9" font-size="25" text-anchor="end" fill="#4d4d4d">92000</text>
<line x1="1651.2" y1="1106" x2="1658.2" y2="1106" stroke="#333" stroke-width="3"/>
<text x="1646" y="1114.5" font-size="25" text-anchor="end" fill="#4d4d4d">63000</text>
<line x1="1651.2" y1="1140.6" x2="1658.2" y2="1140.6" stroke="#333" stroke-width="3"/>
<text x="1646" y="1149.1" font-size="25" text-anchor="end" fill="#4d4d4d">34000</text>
<line x1="1651.2" y1="1176.4" x2="1658.2" y2="1176.4" stroke="#333" stroke-width="3"/>
<text x="1646" y="1184.9" font-size="25" text-anchor="end" fill="#4d4d4d">5000</text>
<line x1="1653.2" y1="1019.5" x2="1658.2" y2="1019.5" stroke="#333" stroke-width="2.5"/>
<line x1="1653.2" y1="1054.1" x2="1658.2" y2="1054.1" stroke="#333" stroke-width="2.5"/>
<line x1="1653.2" y1="1088.7" x2="1658.2" y2="1088.7" stroke="#333" stroke-width="2.5"/>
<line x1="1653.2" y1="1123.3" x2="1658.2" y2="1123.3" stroke="#333" stroke-width="2.5"/>
<line x1="1653.2" y1="1158.5" x2="1658.2" y2="1158.5" stroke="#333" stroke-width="2.5"/>
<line x1="1658.2" y1="1211" x2="1658.2" y2="1366" stroke="#222" stroke-width="2.8"/>
<line x1="1651.2" y1="1211.6" x2="1658.2" y2="1211.6" stroke="#333" stroke-width="3"/>
<text x="1646" y="1220.1" font-size="25" text-anchor="end" fill="#4d4d4d">900</text>
<line x1="1651.2" y1="1262.6" x2="1658.2" y2="1262.6" stroke="#333" stroke-width="3"/>
<text x="1646" y="1271.1" font-size="25" text-anchor="end" fill="#4d4d4d">600</text>
<line x1="1651.2" y1="1313" x2="1658.2" y2="1313" stroke="#333" stroke-width="3"/>
<text x="1646" y="1321.5" font-size="25" text-anchor="end" fill="#4d4d4d">300</text>
<line x1="1651.2" y1="1364.6" x2="1658.2" y2="1364.6" stroke="#333" stroke-width="3"/>
<text x="1646" y="1373.1" font-size="25" text-anchor="end" fill="#4d4d4d">0</text>
<rect x="1688.2" y="1211.6" width="42.6" height="153" fill="#5cb85c"/>
<line x1="1688.2" y1="1211.6" x2="1688.2" y2="1364.6" stroke="#111" stroke-width="3"/>
<line x1="1730.8" y1="1211.6" x2="1730.8" y2="1364.6" stroke="#111" stroke-width="3"/>
<rect x="1688.2" y="1036.5" width="42.6" height="139.9" fill="#5cb85c"/>
<path d="M1688.2,1177.6 V1036.5 H1730.8 V1177.6" fill="none" stroke="#111" stroke-width="3"/>
<rect x="1774.5" y="1211.6" width="42.6" height="153" fill="#44b4d9"/>
<line x1="1774.5" y1="1211.6" x2="1774.5" y2="1364.6" stroke="#111" stroke-width="3"/>
<line x1="1817.1" y1="1211.6" x2="1817.1" y2="1364.6" stroke="#111" stroke-width="3"/>
<rect x="1774.5" y="1017" width="42.6" height="159.4" fill="#44b4d9"/>
<path d="M1774.5,1177.6 V1017 H1817.1 V1177.6" fill="none" stroke="#111" stroke-width="3"/>
<line x1="1859.5" y1="1363.5" x2="1905.1" y2="1363.5" stroke="#111" stroke-width="2.5"/>
<rect x="1947.7" y="1226.5" width="42.6" height="138.1" fill="#efa236" stroke="#111" stroke-width="3"/>
<line x1="1649.2" y1="1364.6" x2="2020.6" y2="1364.6" stroke="#222" stroke-width="2.8"/>
<line x1="1649.2" y1="1176.4" x2="2020.6" y2="1176.4" stroke="#000" stroke-width="2.7" stroke-dasharray="9 7.5"/>
<circle cx="1707.3" cy="978.5" r="3.9" fill="#cb98a9"/>
<circle cx="1710.4" cy="1044.7" r="3.9" fill="#cb98a9"/>
<circle cx="1703.7" cy="1053" r="3.9" fill="#cb98a9"/>
<circle cx="1706.7" cy="1062.3" r="3.9" fill="#cb98a9"/>
<line x1="1709.5" y1="1018" x2="1709.5" y2="1053.8" stroke="#000" stroke-width="3"/>
<line x1="1700.5" y1="1018" x2="1718.5" y2="1018" stroke="#000" stroke-width="3"/>
<line x1="1700.5" y1="1053.8" x2="1718.5" y2="1053.8" stroke="#000" stroke-width="3"/>
<text x="1707.3" y="1008.3" font-size="25" text-anchor="middle">a</text>
<circle cx="1790" cy="997.3" r="3.9" fill="#cb98a9"/>
<circle cx="1794" cy="1016" r="3.9" fill="#cb98a9"/>
<circle cx="1792.3" cy="1024.6" r="3.9" fill="#cb98a9"/>
<circle cx="1800" cy="1027.6" r="3.9" fill="#cb98a9"/>
<line x1="1795.8" y1="1010.7" x2="1795.8" y2="1021" stroke="#000" stroke-width="3"/>
<line x1="1786.8" y1="1010.7" x2="1804.8" y2="1010.7" stroke="#000" stroke-width="3"/>
<line x1="1786.8" y1="1021" x2="1804.8" y2="1021" stroke="#000" stroke-width="3"/>
<text x="1793.5" y="1003.3" font-size="25" text-anchor="middle">a</text>
<circle cx="1882.2" cy="1359" r="3.9" fill="#cb98a9"/>
<circle cx="1886" cy="1361.5" r="3.9" fill="#cb98a9"/>
<circle cx="1889.5" cy="1364" r="3.9" fill="#cb98a9"/>
<text x="1882" y="1354.3" font-size="25" text-anchor="middle">c</text>
<circle cx="1972" cy="1196.4" r="3.9" fill="#cb98a9"/>
<circle cx="1960" cy="1218.3" r="3.9" fill="#cb98a9"/>
<circle cx="1970" cy="1231.7" r="3.9" fill="#cb98a9"/>
<circle cx="1972" cy="1259.6" r="3.9" fill="#cb98a9"/>
<line x1="1969" y1="1213.4" x2="1969" y2="1236.5" stroke="#000" stroke-width="3"/>
<line x1="1960" y1="1213.4" x2="1978" y2="1213.4" stroke="#000" stroke-width="3"/>
<line x1="1960" y1="1236.5" x2="1978" y2="1236.5" stroke="#000" stroke-width="3"/>
<text x="1967.2" y="1205" font-size="25" text-anchor="middle">b</text>
<line x1="1709.5" y1="1366" x2="1709.5" y2="1372" stroke="#333" stroke-width="2.8"/>
<line x1="1795.8" y1="1366" x2="1795.8" y2="1372" stroke="#333" stroke-width="2.8"/>
<line x1="1882.3" y1="1366" x2="1882.3" y2="1372" stroke="#333" stroke-width="2.8"/>
<line x1="1969" y1="1366" x2="1969" y2="1372" stroke="#333" stroke-width="2.8"/>
<text x="1709.5" y="1392.6" font-size="25" text-anchor="middle" fill="#4d4d4d">A</text>
<text x="1795.8" y="1392.6" font-size="25" text-anchor="middle" fill="#4d4d4d">B</text>
<text x="1882.3" y="1392.6" font-size="25" text-anchor="middle" fill="#4d4d4d">C</text>
<text x="1969" y="1392.6" font-size="25" text-anchor="middle" fill="#4d4d4d">D</text>
<text x="3" y="1462.5" font-size="46" font-weight="bold">e</text>
<text x="128.7" y="1500" font-size="24.9" font-weight="bold">Polyketide synthase genes</text>
<text x="25.2" y="1710.9" font-size="29" text-anchor="middle" transform="rotate(-90 25.2 1710.9)">Total gene expression</text>
<line x1="126.6" y1="1539" x2="126.6" y2="1887.2" stroke="#222" stroke-width="2.4"/>
<line x1="125.4" y1="1886" x2="516.7" y2="1886" stroke="#222" stroke-width="2.4"/>
<line x1="121" y1="1546.3" x2="126.6" y2="1546.3" stroke="#333" stroke-width="2.4"/>
<text x="116" y="1554.8" font-size="25" text-anchor="end" fill="#4d4d4d">4e+05</text>
<line x1="121" y1="1627.7" x2="126.6" y2="1627.7" stroke="#333" stroke-width="2.4"/>
<text x="116" y="1636.2" font-size="25" text-anchor="end" fill="#4d4d4d">3e+05</text>
<line x1="121" y1="1708.4" x2="126.6" y2="1708.4" stroke="#333" stroke-width="2.4"/>
<text x="116" y="1716.9" font-size="25" text-anchor="end" fill="#4d4d4d">2e+05</text>
<line x1="121" y1="1788.6" x2="126.6" y2="1788.6" stroke="#333" stroke-width="2.4"/>
<text x="116" y="1797.1" font-size="25" text-anchor="end" fill="#4d4d4d">1e+05</text>
<line x1="121" y1="1869.3" x2="126.6" y2="1869.3" stroke="#333" stroke-width="2.4"/>
<text x="116" y="1877.8" font-size="25" text-anchor="end" fill="#4d4d4d">0e+00</text>
<rect x="159.6" y="1582.4" width="45.8" height="287.7" fill="#5cb85c" stroke="#111" stroke-width="2.8"/>
<rect x="252.8" y="1692.2" width="45.8" height="177.9" fill="#44b4d9" stroke="#111" stroke-width="2.8"/>
<rect x="346" y="1865.9" width="45.8" height="4.2" fill="#1a1a1a" stroke="#111" stroke-width="2.8"/>
<rect x="439.1" y="1851.9" width="45.8" height="18.2" fill="#efa236" stroke="#111" stroke-width="2.8"/>
<circle cx="170" cy="1532.4" r="3.9" fill="#cb98a9"/>
<circle cx="194.3" cy="1553" r="3.9" fill="#cb98a9"/>
<circle cx="171.8" cy="1577.3" r="3.9" fill="#cb98a9"/>
<circle cx="177.9" cy="1645.9" r="3.9" fill="#cb98a9"/>
<line x1="182.5" y1="1554.8" x2="182.5" y2="1608.9" stroke="#000" stroke-width="3"/>
<line x1="173.5" y1="1554.8" x2="191.5" y2="1554.8" stroke="#000" stroke-width="3"/>
<line x1="173.5" y1="1608.9" x2="191.5" y2="1608.9" stroke="#000" stroke-width="3"/>
<text x="182.1" y="1551.2" font-size="25" text-anchor="middle">a</text>
<circle cx="265.9" cy="1678.1" r="3.9" fill="#cb98a9"/>
<circle cx="278.1" cy="1686.6" r="3.9" fill="#cb98a9"/>
<circle cx="285.4" cy="1695.7" r="3.9" fill="#cb98a9"/>
<circle cx="265.9" cy="1701.8" r="3.9" fill="#cb98a9"/>
<line x1="275.7" y1="1686.6" x2="275.7" y2="1695.7" stroke="#000" stroke-width="3"/>
<line x1="266.7" y1="1686.6" x2="284.7" y2="1686.6" stroke="#000" stroke-width="3"/>
<line x1="266.7" y1="1695.7" x2="284.7" y2="1695.7" stroke="#000" stroke-width="3"/>
<text x="276.3" y="1679.2" font-size="25" text-anchor="middle">b</text>
<circle cx="361.3" cy="1865.7" r="3.9" fill="#cb98a9"/>
<circle cx="376.4" cy="1865.7" r="3.9" fill="#cb98a9"/>
<text x="369.2" y="1862.6" font-size="25" text-anchor="middle">d</text>
<circle cx="452.3" cy="1850.5" r="3.9" fill="#cb98a9"/>
<circle cx="472.4" cy="1848.1" r="3.9" fill="#cb98a9"/>
<line x1="462" y1="1850.5" x2="462" y2="1853.5" stroke="#000" stroke-width="3"/>
<line x1="453" y1="1850.5" x2="471" y2="1850.5" stroke="#000" stroke-width="3"/>
<line x1="453" y1="1853.5" x2="471" y2="1853.5" stroke="#000" stroke-width="3"/>
<text x="462.7" y="1845.6" font-size="25" text-anchor="middle">c</text>
<line x1="182.5" y1="1887" x2="182.5" y2="1892.5" stroke="#333" stroke-width="2.4"/>
<line x1="275.7" y1="1887" x2="275.7" y2="1892.5" stroke="#333" stroke-width="2.4"/>
<line x1="368.9" y1="1887" x2="368.9" y2="1892.5" stroke="#333" stroke-width="2.4"/>
<line x1="462" y1="1887" x2="462" y2="1892.5" stroke="#333" stroke-width="2.4"/>
<text x="182.5" y="1913" font-size="25" text-anchor="middle" fill="#4d4d4d">A</text>
<text x="275.7" y="1913" font-size="25" text-anchor="middle" fill="#4d4d4d">B</text>
<text x="368.9" y="1913" font-size="25" text-anchor="middle" fill="#4d4d4d">C</text>
<text x="462" y="1913" font-size="25" text-anchor="middle" fill="#4d4d4d">D</text>
<text x="571.8" y="1462" font-size="43" font-weight="bold">f</text>
<text x="851.9" y="1448.5" font-size="31" fill="#2896d6"><tspan font-weight="bold">3 Key PKS-Derived Secondary Metabolites of </tspan><tspan font-weight="bold" font-style="italic">Bacillus velezensis</tspan><tspan font-weight="bold"> SQR9</tspan></text>
<line x1="627.2" y1="1466" x2="2015.8" y2="1466" stroke="#2896d6" stroke-width="2.2"/>
<text x="625.6" y="1505" font-size="29" fill="#2896d6">Macrolactin H</text>
<text x="1128.1" y="1505" font-size="29" fill="#2896d6">Bacillaene</text>
<text x="1654.5" y="1505" font-size="29" fill="#2896d6">Difficidin</text>
<line x1="626.4" y1="1540" x2="626.4" y2="1887.2" stroke="#222" stroke-width="2.4"/>
<line x1="625.2" y1="1886" x2="1020" y2="1886" stroke="#222" stroke-width="2.4"/>
<line x1="620.8" y1="1602.2" x2="626.4" y2="1602.2" stroke="#333" stroke-width="2.4"/>
<text x="613.7" y="1610.7" font-size="25" text-anchor="end" fill="#4d4d4d">1.5e+05</text>
<line x1="620.8" y1="1692" x2="626.4" y2="1692" stroke="#333" stroke-width="2.4"/>
<text x="613.7" y="1700.5" font-size="25" text-anchor="end" fill="#4d4d4d">1e+05</text>
<line x1="620.8" y1="1780.7" x2="626.4" y2="1780.7" stroke="#333" stroke-width="2.4"/>
<text x="613.7" y="1789.2" font-size="25" text-anchor="end" fill="#4d4d4d">5e+04</text>
<line x1="620.8" y1="1870" x2="626.4" y2="1870" stroke="#333" stroke-width="2.4"/>
<text x="613.7" y="1878.5" font-size="25" text-anchor="end" fill="#4d4d4d">0</text>
<rect x="659.1" y="1607.8" width="46" height="262.4" fill="#5cb85c" stroke="#111" stroke-width="2.8"/>
<rect x="752.1" y="1558" width="46" height="312.2" fill="#44b4d9" stroke="#111" stroke-width="2.8"/>
<line x1="843.7" y1="1870.4" x2="892.5" y2="1870.4" stroke="#111" stroke-width="2.8"/>
<rect x="938.3" y="1812.4" width="46" height="57.8" fill="#efa236" stroke="#111" stroke-width="2.8"/>
<circle cx="677" cy="1576.1" r="3.9" fill="#cb98a9"/>
<circle cx="687.3" cy="1610.1" r="3.9" fill="#cb98a9"/>
<circle cx="678.2" cy="1613.1" r="3.9" fill="#cb98a9"/>
<circle cx="681.8" cy="1635" r="3.9" fill="#cb98a9"/>
<line x1="682.1" y1="1596" x2="682.1" y2="1616.8" stroke="#000" stroke-width="3"/>
<line x1="673.1" y1="1596" x2="691.1" y2="1596" stroke="#000" stroke-width="3"/>
<line x1="673.1" y1="1616.8" x2="691.1" y2="1616.8" stroke="#000" stroke-width="3"/>
<text x="682.5" y="1588.2" font-size="25" text-anchor="middle">b</text>
<circle cx="766.2" cy="1555.4" r="3.9" fill="#cb98a9"/>
<circle cx="783.2" cy="1555.4" r="3.9" fill="#cb98a9"/>
<circle cx="784.5" cy="1562.1" r="3.9" fill="#cb98a9"/>
<line x1="775.1" y1="1556" x2="775.1" y2="1558" stroke="#000" stroke-width="3"/>
<line x1="766.1" y1="1556" x2="784.1" y2="1556" stroke="#000" stroke-width="3"/>
<line x1="766.1" y1="1558" x2="784.1" y2="1558" stroke="#000" stroke-width="3"/>
<text x="774.7" y="1550" font-size="25" text-anchor="middle">a</text>
<circle cx="859.1" cy="1869.3" r="3.9" fill="#cb98a9"/>
<circle cx="876.1" cy="1869.3" r="3.9" fill="#cb98a9"/>
<text x="868.2" y="1863.9" font-size="25" text-anchor="middle">d</text>
<circle cx="970.2" cy="1797.1" r="3.9" fill="#cb98a9"/>
<circle cx="949" cy="1820.2" r="3.9" fill="#cb98a9"/>
<circle cx="957.5" cy="1811.1" r="3.9" fill="#cb98a9"/>
<circle cx="965.4" cy="1811.1" r="3.9" fill="#cb98a9"/>
<line x1="961.3" y1="1806.8" x2="961.3" y2="1814" stroke="#000" stroke-width="3"/>
<line x1="952.3" y1="1806.8" x2="970.3" y2="1806.8" stroke="#000" stroke-width="3"/>
<line x1="952.3" y1="1814" x2="970.3" y2="1814" stroke="#000" stroke-width="3"/>
<text x="959.3" y="1803.8" font-size="25" text-anchor="middle">c</text>
<line x1="682.1" y1="1887" x2="682.1" y2="1892.5" stroke="#333" stroke-width="2.4"/>
<line x1="775.1" y1="1887" x2="775.1" y2="1892.5" stroke="#333" stroke-width="2.4"/>
<line x1="868.1" y1="1887" x2="868.1" y2="1892.5" stroke="#333" stroke-width="2.4"/>
<line x1="961.3" y1="1887" x2="961.3" y2="1892.5" stroke="#333" stroke-width="2.4"/>
<text x="682.1" y="1913" font-size="25" text-anchor="middle" fill="#4d4d4d">A</text>
<text x="775.1" y="1913" font-size="25" text-anchor="middle" fill="#4d4d4d">B</text>
<text x="868.1" y="1913" font-size="25" text-anchor="middle" fill="#4d4d4d">C</text>
<text x="961.3" y="1913" font-size="25" text-anchor="middle" fill="#4d4d4d">D</text>
<line x1="1128.1" y1="1540" x2="1128.1" y2="1887.2" stroke="#222" stroke-width="2.4"/>
<line x1="1126.9" y1="1886" x2="1519" y2="1886" stroke="#222" stroke-width="2.4"/>
<line x1="1122.5" y1="1574.9" x2="1128.1" y2="1574.9" stroke="#333" stroke-width="2.4"/>
<text x="1115.4" y="1583.4" font-size="25" text-anchor="end" fill="#4d4d4d">2e+05</text>
<line x1="1122.5" y1="1648.3" x2="1128.1" y2="1648.3" stroke="#333" stroke-width="2.4"/>
<text x="1115.4" y="1656.8" font-size="25" text-anchor="end" fill="#4d4d4d">1.5e+05</text>
<line x1="1122.5" y1="1722.4" x2="1128.1" y2="1722.4" stroke="#333" stroke-width="2.4"/>
<text x="1115.4" y="1730.9" font-size="25" text-anchor="end" fill="#4d4d4d">1e+05</text>
<line x1="1122.5" y1="1796.5" x2="1128.1" y2="1796.5" stroke="#333" stroke-width="2.4"/>
<text x="1115.4" y="1805" font-size="25" text-anchor="end" fill="#4d4d4d">5e+04</text>
<line x1="1122.5" y1="1870" x2="1128.1" y2="1870" stroke="#333" stroke-width="2.4"/>
<text x="1115.4" y="1878.5" font-size="25" text-anchor="end" fill="#4d4d4d">0</text>
<rect x="1160.8" y="1589" width="45.6" height="281.2" fill="#5cb85c" stroke="#111" stroke-width="2.8"/>
<rect x="1254.1" y="1601.2" width="45.6" height="269" fill="#44b4d9" stroke="#111" stroke-width="2.8"/>
<line x1="1345.7" y1="1870.4" x2="1394.1" y2="1870.4" stroke="#111" stroke-width="2.8"/>
<rect x="1440.6" y="1827.6" width="45.6" height="42.6" fill="#efa236" stroke="#111" stroke-width="2.8"/>
<circle cx="1192.4" cy="1565.8" r="3.9" fill="#cb98a9"/>
<circle cx="1171.8" cy="1586.4" r="3.9" fill="#cb98a9"/>
<circle cx="1190" cy="1590" r="3.9" fill="#cb98a9"/>
<circle cx="1179.1" cy="1605.8" r="3.9" fill="#cb98a9"/>
<line x1="1183.6" y1="1581.5" x2="1183.6" y2="1594.3" stroke="#000" stroke-width="3"/>
<line x1="1174.6" y1="1581.5" x2="1192.6" y2="1581.5" stroke="#000" stroke-width="3"/>
<line x1="1174.6" y1="1594.3" x2="1192.6" y2="1594.3" stroke="#000" stroke-width="3"/>
<text x="1180.9" y="1573" font-size="25" text-anchor="middle">a</text>
<circle cx="1288.4" cy="1592.5" r="3.9" fill="#cb98a9"/>
<circle cx="1282.3" cy="1596.1" r="3.9" fill="#cb98a9"/>
<circle cx="1278" cy="1600.4" r="3.9" fill="#cb98a9"/>
<circle cx="1270.2" cy="1608.3" r="3.9" fill="#cb98a9"/>
<line x1="1276.9" y1="1598" x2="1276.9" y2="1602.5" stroke="#000" stroke-width="3"/>
<line x1="1267.9" y1="1598" x2="1285.9" y2="1598" stroke="#000" stroke-width="3"/>
<line x1="1267.9" y1="1602.5" x2="1285.9" y2="1602.5" stroke="#000" stroke-width="3"/>
<text x="1275" y="1587.6" font-size="25" text-anchor="middle">a</text>
<circle cx="1360" cy="1869.9" r="3.9" fill="#cb98a9"/>
<circle cx="1377" cy="1869.9" r="3.9" fill="#cb98a9"/>
<circle cx="1381.9" cy="1869.9" r="3.9" fill="#cb98a9"/>
<text x="1369" y="1863.9" font-size="25" text-anchor="middle">c</text>
<circle cx="1474.8" cy="1815.9" r="3.9" fill="#cb98a9"/>
<circle cx="1469.3" cy="1822" r="3.9" fill="#cb98a9"/>
<circle cx="1463.8" cy="1826.2" r="3.9" fill="#cb98a9"/>
<circle cx="1451.7" cy="1833.5" r="3.9" fill="#cb98a9"/>
<line x1="1463.4" y1="1823" x2="1463.4" y2="1829.5" stroke="#000" stroke-width="3"/>
<line x1="1454.4" y1="1823" x2="1472.4" y2="1823" stroke="#000" stroke-width="3"/>
<line x1="1454.4" y1="1829.5" x2="1472.4" y2="1829.5" stroke="#000" stroke-width="3"/>
<text x="1463.2" y="1814.1" font-size="25" text-anchor="middle">b</text>
<line x1="1183.6" y1="1887" x2="1183.6" y2="1892.5" stroke="#333" stroke-width="2.4"/>
<line x1="1276.9" y1="1887" x2="1276.9" y2="1892.5" stroke="#333" stroke-width="2.4"/>
<line x1="1369.9" y1="1887" x2="1369.9" y2="1892.5" stroke="#333" stroke-width="2.4"/>
<line x1="1463.4" y1="1887" x2="1463.4" y2="1892.5" stroke="#333" stroke-width="2.4"/>
<text x="1183.6" y="1913" font-size="25" text-anchor="middle" fill="#4d4d4d">A</text>
<text x="1276.9" y="1913" font-size="25" text-anchor="middle" fill="#4d4d4d">B</text>
<text x="1369.9" y="1913" font-size="25" text-anchor="middle" fill="#4d4d4d">C</text>
<text x="1463.4" y="1913" font-size="25" text-anchor="middle" fill="#4d4d4d">D</text>
<line x1="1654.6" y1="1539.5" x2="1654.6" y2="1887.2" stroke="#222" stroke-width="2.4"/>
<line x1="1653.4" y1="1886" x2="2021.8" y2="1886" stroke="#222" stroke-width="2.4"/>
<line x1="1649" y1="1539.6" x2="1654.6" y2="1539.6" stroke="#333" stroke-width="2.4"/>
<text x="1641.9" y="1548.1" font-size="25" text-anchor="end" fill="#4d4d4d">1.25e+05</text>
<line x1="1649" y1="1606.4" x2="1654.6" y2="1606.4" stroke="#333" stroke-width="2.4"/>
<text x="1641.9" y="1614.9" font-size="25" text-anchor="end" fill="#4d4d4d">1e+05</text>
<line x1="1649" y1="1672" x2="1654.6" y2="1672" stroke="#333" stroke-width="2.4"/>
<text x="1641.9" y="1680.5" font-size="25" text-anchor="end" fill="#4d4d4d">7.5e+04</text>
<line x1="1649" y1="1738.2" x2="1654.6" y2="1738.2" stroke="#333" stroke-width="2.4"/>
<text x="1641.9" y="1746.7" font-size="25" text-anchor="end" fill="#4d4d4d">5e+04</text>
<line x1="1649" y1="1803.8" x2="1654.6" y2="1803.8" stroke="#333" stroke-width="2.4"/>
<text x="1641.9" y="1812.3" font-size="25" text-anchor="end" fill="#4d4d4d">2.5e+04</text>
<line x1="1649" y1="1870" x2="1654.6" y2="1870" stroke="#333" stroke-width="2.4"/>
<text x="1641.9" y="1878.5" font-size="25" text-anchor="end" fill="#4d4d4d">0</text>
<rect x="1687.2" y="1618.2" width="45.8" height="252" fill="#5cb85c" stroke="#111" stroke-width="2.8"/>
<rect x="1780.3" y="1609.1" width="45.8" height="261.1" fill="#44b4d9" stroke="#111" stroke-width="2.8"/>
<line x1="1872.1" y1="1870.4" x2="1920.7" y2="1870.4" stroke="#111" stroke-width="2.8"/>
<rect x="1966.5" y="1744.4" width="45.8" height="125.8" fill="#efa236" stroke="#111" stroke-width="2.8"/>
<circle cx="1703.7" cy="1565.8" r="3.9" fill="#cb98a9"/>
<circle cx="1700.6" cy="1600.4" r="3.9" fill="#cb98a9"/>
<circle cx="1701.2" cy="1645.3" r="3.9" fill="#cb98a9"/>
<circle cx="1716.4" cy="1653.8" r="3.9" fill="#cb98a9"/>
<line x1="1710.1" y1="1597.3" x2="1710.1" y2="1636.2" stroke="#000" stroke-width="3"/>
<line x1="1701.1" y1="1597.3" x2="1719.1" y2="1597.3" stroke="#000" stroke-width="3"/>
<line x1="1701.1" y1="1636.2" x2="1719.1" y2="1636.2" stroke="#000" stroke-width="3"/>
<text x="1708" y="1588.2" font-size="25" text-anchor="middle">a</text>
<circle cx="1797.2" cy="1602.2" r="3.9" fill="#cb98a9"/>
<circle cx="1806.9" cy="1605.2" r="3.9" fill="#cb98a9"/>
<circle cx="1796" cy="1611.9" r="3.9" fill="#cb98a9"/>
<circle cx="1808.1" cy="1609.5" r="3.9" fill="#cb98a9"/>
<line x1="1803.2" y1="1606.5" x2="1803.2" y2="1610" stroke="#000" stroke-width="3"/>
<line x1="1794.2" y1="1606.5" x2="1812.2" y2="1606.5" stroke="#000" stroke-width="3"/>
<line x1="1794.2" y1="1610" x2="1812.2" y2="1610" stroke="#000" stroke-width="3"/>
<text x="1802" y="1595.5" font-size="25" text-anchor="middle">a</text>
<circle cx="1888.2" cy="1869.9" r="3.9" fill="#cb98a9"/>
<circle cx="1901.6" cy="1869.9" r="3.9" fill="#cb98a9"/>
<circle cx="1905.2" cy="1869.9" r="3.9" fill="#cb98a9"/>
<text x="1896" y="1860.8" font-size="25" text-anchor="middle">c</text>
<circle cx="1983.6" cy="1720" r="3.9" fill="#cb98a9"/>
<circle cx="1991.5" cy="1735.8" r="3.9" fill="#cb98a9"/>
<circle cx="1994.5" cy="1746.7" r="3.9" fill="#cb98a9"/>
<circle cx="1979.9" cy="1760" r="3.9" fill="#cb98a9"/>
<line x1="1989.4" y1="1735.8" x2="1989.4" y2="1750.3" stroke="#000" stroke-width="3"/>
<line x1="1980.4" y1="1735.8" x2="1998.4" y2="1735.8" stroke="#000" stroke-width="3"/>
<line x1="1980.4" y1="1750.3" x2="1998.4" y2="1750.3" stroke="#000" stroke-width="3"/>
<text x="1989" y="1727.2" font-size="25" text-anchor="middle">b</text>
<line x1="1710.1" y1="1887" x2="1710.1" y2="1892.5" stroke="#333" stroke-width="2.4"/>
<line x1="1803.2" y1="1887" x2="1803.2" y2="1892.5" stroke="#333" stroke-width="2.4"/>
<line x1="1896.4" y1="1887" x2="1896.4" y2="1892.5" stroke="#333" stroke-width="2.4"/>
<line x1="1989.4" y1="1887" x2="1989.4" y2="1892.5" stroke="#333" stroke-width="2.4"/>
<text x="1710.1" y="1913" font-size="25" text-anchor="middle" fill="#4d4d4d">A</text>
<text x="1803.2" y="1913" font-size="25" text-anchor="middle" fill="#4d4d4d">B</text>
<text x="1896.4" y="1913" font-size="25" text-anchor="middle" fill="#4d4d4d">C</text>
<text x="1989.4" y="1913" font-size="25" text-anchor="middle" fill="#4d4d4d">D</text>
<text x="1.6" y="1959.3" font-size="46" font-weight="bold">g</text>
<text x="50.4" y="2051.8" font-size="29">Bacteria taxon</text>
<rect x="58.9" y="2074.2" width="47.2" height="46.8" fill="#a6cee3"/>
<text x="117.8" y="2104.6" font-size="24.8"><tspan font-style="italic">Bacillus</tspan></text>
<rect x="58.9" y="2125.4" width="47.2" height="46.8" fill="#1f78b4"/>
<text x="117.8" y="2155.8" font-size="24.8"><tspan font-style="italic">Acinetobacter</tspan></text>
<rect x="58.9" y="2176.6" width="47.2" height="46.8" fill="#b2df8a"/>
<text x="117.8" y="2207" font-size="24.8"><tspan font-style="italic">Enterobacter</tspan></text>
<rect x="58.9" y="2227.8" width="47.2" height="46.8" fill="#33a02c"/>
<text x="117.8" y="2258.2" font-size="24.8"><tspan font-style="italic">Chryseobacterium</tspan></text>
<rect x="58.9" y="2279" width="47.2" height="46.8" fill="#fb9a99"/>
<text x="117.8" y="2309.4" font-size="24.8"><tspan font-style="italic">Comamonas</tspan></text>
<rect x="58.9" y="2330.2" width="47.2" height="46.8" fill="#e31a1c"/>
<text x="117.8" y="2360.6" font-size="24.8"><tspan font-style="italic">Pantoea</tspan></text>
<rect x="58.9" y="2381.4" width="47.2" height="46.8" fill="#fdbf6f"/>
<text x="117.8" y="2411.8" font-size="24.8"><tspan font-style="italic">Pseudomonas</tspan></text>
<rect x="337.5" y="1972" width="160.5" height="208.3" fill="#a6cee3"/>
<rect x="337.5" y="2180" width="160.5" height="98.5" fill="#1f78b4"/>
<rect x="337.5" y="2278.2" width="160.5" height="206.1" fill="#b2df8a"/>
<rect x="337.5" y="2484" width="160.5" height="8.5" fill="#33a02c"/>
<rect x="337.5" y="2492.2" width="160.5" height="3.5" fill="#fb9a99"/>
<rect x="337.5" y="2495.4" width="160.5" height="9.9" fill="#e31a1c"/>
<rect x="337.5" y="2505" width="160.5" height="2" fill="#fdbf6f"/>
<line x1="337.5" y1="2075.4" x2="498" y2="2075.4" stroke="#fff" stroke-width="1" stroke-opacity="0.16"/>
<line x1="337.5" y1="2232.4" x2="498" y2="2232.4" stroke="#fff" stroke-width="1" stroke-opacity="0.16"/>
<line x1="337.5" y1="2327.2" x2="498" y2="2327.2" stroke="#fff" stroke-width="1" stroke-opacity="0.16"/>
<line x1="337.5" y1="2381.2" x2="498" y2="2381.2" stroke="#fff" stroke-width="1" stroke-opacity="0.16"/>
<line x1="337.5" y1="2426.3" x2="498" y2="2426.3" stroke="#fff" stroke-width="1" stroke-opacity="0.16"/>
<text x="416.8" y="2085" font-size="25" text-anchor="middle">c</text>
<rect x="515.5" y="1972" width="160.5" height="395.2" fill="#a6cee3"/>
<rect x="515.5" y="2366.9" width="160.5" height="26.4" fill="#1f78b4"/>
<rect x="515.5" y="2393" width="160.5" height="112.3" fill="#b2df8a"/>
<rect x="515.5" y="2505" width="160.5" height="1.5" fill="#e8602c"/>
<rect x="515.5" y="2506.2" width="160.5" height="0.8" fill="#fdbf6f"/>
<line x1="515.5" y1="2076.3" x2="676" y2="2076.3" stroke="#fff" stroke-width="1" stroke-opacity="0.16"/>
<line x1="515.5" y1="2176" x2="676" y2="2176" stroke="#fff" stroke-width="1" stroke-opacity="0.16"/>
<line x1="515.5" y1="2268.8" x2="676" y2="2268.8" stroke="#fff" stroke-width="1" stroke-opacity="0.16"/>
<line x1="515.5" y1="2375.1" x2="676" y2="2375.1" stroke="#fff" stroke-width="1" stroke-opacity="0.16"/>
<line x1="515.5" y1="2386.9" x2="676" y2="2386.9" stroke="#fff" stroke-width="1" stroke-opacity="0.16"/>
<line x1="515.5" y1="2450.6" x2="676" y2="2450.6" stroke="#fff" stroke-width="1" stroke-opacity="0.16"/>
<text x="594.8" y="2147.7" font-size="25" text-anchor="middle">a</text>
<rect x="693.5" y="1972" width="160.5" height="203.9" fill="#a6cee3"/>
<rect x="693.5" y="2175.6" width="160.5" height="64.7" fill="#1f78b4"/>
<rect x="693.5" y="2240" width="160.5" height="242.1" fill="#b2df8a"/>
<rect x="693.5" y="2481.8" width="160.5" height="12.7" fill="#33a02c"/>
<rect x="693.5" y="2494.2" width="160.5" height="4.7" fill="#fb9a99"/>
<rect x="693.5" y="2498.6" width="160.5" height="7" fill="#e31a1c"/>
<rect x="693.5" y="2505.3" width="160.5" height="1.7" fill="#fdbf6f"/>
<line x1="693.5" y1="2076.6" x2="854" y2="2076.6" stroke="#fff" stroke-width="1" stroke-opacity="0.16"/>
<line x1="693.5" y1="2191.8" x2="854" y2="2191.8" stroke="#fff" stroke-width="1" stroke-opacity="0.16"/>
<line x1="693.5" y1="2221.9" x2="854" y2="2221.9" stroke="#fff" stroke-width="1" stroke-opacity="0.16"/>
<line x1="693.5" y1="2295.4" x2="854" y2="2295.4" stroke="#fff" stroke-width="1" stroke-opacity="0.16"/>
<line x1="693.5" y1="2357.6" x2="854" y2="2357.6" stroke="#fff" stroke-width="1" stroke-opacity="0.16"/>
<line x1="693.5" y1="2420.2" x2="854" y2="2420.2" stroke="#fff" stroke-width="1" stroke-opacity="0.16"/>
<text x="772.8" y="2073" font-size="25" text-anchor="middle">c</text>
<rect x="871.5" y="1972" width="160.5" height="326" fill="#a6cee3"/>
<rect x="871.5" y="2297.7" width="160.5" height="47.6" fill="#1f78b4"/>
<rect x="871.5" y="2345" width="160.5" height="160.3" fill="#b2df8a"/>
<rect x="871.5" y="2505" width="160.5" height="1.5" fill="#e8602c"/>
<rect x="871.5" y="2506.2" width="160.5" height="0.8" fill="#fdbf6f"/>
<line x1="871.5" y1="2052.7" x2="1032" y2="2052.7" stroke="#fff" stroke-width="1" stroke-opacity="0.16"/>
<line x1="871.5" y1="2138.4" x2="1032" y2="2138.4" stroke="#fff" stroke-width="1" stroke-opacity="0.16"/>
<line x1="871.5" y1="2220" x2="1032" y2="2220" stroke="#fff" stroke-width="1" stroke-opacity="0.16"/>
<line x1="871.5" y1="2324.4" x2="1032" y2="2324.4" stroke="#fff" stroke-width="1" stroke-opacity="0.16"/>
<line x1="871.5" y1="2388.8" x2="1032" y2="2388.8" stroke="#fff" stroke-width="1" stroke-opacity="0.16"/>
<line x1="871.5" y1="2427.5" x2="1032" y2="2427.5" stroke="#fff" stroke-width="1" stroke-opacity="0.16"/>
<line x1="871.5" y1="2464.4" x2="1032" y2="2464.4" stroke="#fff" stroke-width="1" stroke-opacity="0.16"/>
<text x="950.8" y="2138.6" font-size="25" text-anchor="middle">b</text>
<rect x="1049.5" y="1972" width="160.5" height="309.6" fill="#a6cee3"/>
<rect x="1049.5" y="2281.3" width="160.5" height="62.8" fill="#1f78b4"/>
<rect x="1049.5" y="2343.8" width="160.5" height="161.7" fill="#b2df8a"/>
<rect x="1049.5" y="2505.2" width="160.5" height="1.4" fill="#e8602c"/>
<rect x="1049.5" y="2506.3" width="160.5" height="0.7" fill="#fdbf6f"/>
<line x1="1049.5" y1="2132.6" x2="1210" y2="2132.6" stroke="#fff" stroke-width="1" stroke-opacity="0.16"/>
<line x1="1049.5" y1="2301.3" x2="1210" y2="2301.3" stroke="#fff" stroke-width="1" stroke-opacity="0.16"/>
<line x1="1049.5" y1="2310.8" x2="1210" y2="2310.8" stroke="#fff" stroke-width="1" stroke-opacity="0.16"/>
<line x1="1049.5" y1="2320.3" x2="1210" y2="2320.3" stroke="#fff" stroke-width="1" stroke-opacity="0.16"/>
<line x1="1049.5" y1="2429.4" x2="1210" y2="2429.4" stroke="#fff" stroke-width="1" stroke-opacity="0.16"/>
<text x="1128.8" y="2124.6" font-size="25" text-anchor="middle">b</text>
<rect x="1227.5" y="1972" width="160.5" height="293.8" fill="#a6cee3"/>
<rect x="1227.5" y="2265.5" width="160.5" height="82.8" fill="#1f78b4"/>
<rect x="1227.5" y="2348" width="160.5" height="157.3" fill="#b2df8a"/>
<rect x="1227.5" y="2505" width="160.5" height="1.5" fill="#e8602c"/>
<rect x="1227.5" y="2506.2" width="160.5" height="0.8" fill="#fdbf6f"/>
<line x1="1227.5" y1="2043" x2="1388" y2="2043" stroke="#fff" stroke-width="1" stroke-opacity="0.16"/>
<line x1="1227.5" y1="2123.4" x2="1388" y2="2123.4" stroke="#fff" stroke-width="1" stroke-opacity="0.16"/>
<line x1="1227.5" y1="2199.4" x2="1388" y2="2199.4" stroke="#fff" stroke-width="1" stroke-opacity="0.16"/>
<line x1="1227.5" y1="2293.4" x2="1388" y2="2293.4" stroke="#fff" stroke-width="1" stroke-opacity="0.16"/>
<line x1="1227.5" y1="2321.6" x2="1388" y2="2321.6" stroke="#fff" stroke-width="1" stroke-opacity="0.16"/>
<line x1="1227.5" y1="2395" x2="1388" y2="2395" stroke="#fff" stroke-width="1" stroke-opacity="0.16"/>
<line x1="1227.5" y1="2450.2" x2="1388" y2="2450.2" stroke="#fff" stroke-width="1" stroke-opacity="0.16"/>
<text x="1306.8" y="2117.3" font-size="25" text-anchor="middle">b</text>
<rect x="1405.5" y="1972" width="160.5" height="273.1" fill="#a6cee3"/>
<rect x="1405.5" y="2244.8" width="160.5" height="72.6" fill="#1f78b4"/>
<rect x="1405.5" y="2317.1" width="160.5" height="187.8" fill="#b2df8a"/>
<rect x="1405.5" y="2504.6" width="160.5" height="1.7" fill="#e8602c"/>
<rect x="1405.5" y="2506" width="160.5" height="1" fill="#fdbf6f"/>
<line x1="1405.5" y1="2047.9" x2="1566" y2="2047.9" stroke="#fff" stroke-width="1" stroke-opacity="0.16"/>
<line x1="1405.5" y1="2108.1" x2="1566" y2="2108.1" stroke="#fff" stroke-width="1" stroke-opacity="0.16"/>
<line x1="1405.5" y1="2177.5" x2="1566" y2="2177.5" stroke="#fff" stroke-width="1" stroke-opacity="0.16"/>
<line x1="1405.5" y1="2268" x2="1566" y2="2268" stroke="#fff" stroke-width="1" stroke-opacity="0.16"/>
<line x1="1405.5" y1="2273.9" x2="1566" y2="2273.9" stroke="#fff" stroke-width="1" stroke-opacity="0.16"/>
<line x1="1405.5" y1="2303.9" x2="1566" y2="2303.9" stroke="#fff" stroke-width="1" stroke-opacity="0.16"/>
<line x1="1405.5" y1="2405.9" x2="1566" y2="2405.9" stroke="#fff" stroke-width="1" stroke-opacity="0.16"/>
<text x="1484.8" y="2105.2" font-size="25" text-anchor="middle">b</text>
<rect x="1583.5" y="1972" width="160.5" height="268.9" fill="#a6cee3"/>
<rect x="1583.5" y="2240.6" width="160.5" height="75.6" fill="#1f78b4"/>
<rect x="1583.5" y="2315.9" width="160.5" height="189.2" fill="#b2df8a"/>
<rect x="1583.5" y="2504.8" width="160.5" height="1.7" fill="#e8602c"/>
<rect x="1583.5" y="2506.2" width="160.5" height="0.8" fill="#fdbf6f"/>
<line x1="1583.5" y1="2108.2" x2="1744" y2="2108.2" stroke="#fff" stroke-width="1" stroke-opacity="0.16"/>
<line x1="1583.5" y1="2261.9" x2="1744" y2="2261.9" stroke="#fff" stroke-width="1" stroke-opacity="0.16"/>
<line x1="1583.5" y1="2278" x2="1744" y2="2278" stroke="#fff" stroke-width="1" stroke-opacity="0.16"/>
<line x1="1583.5" y1="2294" x2="1744" y2="2294" stroke="#fff" stroke-width="1" stroke-opacity="0.16"/>
<line x1="1583.5" y1="2409.1" x2="1744" y2="2409.1" stroke="#fff" stroke-width="1" stroke-opacity="0.16"/>
<text x="1662.8" y="2097.3" font-size="25" text-anchor="middle">b</text>
<rect x="1761.5" y="1972" width="160.5" height="278" fill="#a6cee3"/>
<rect x="1761.5" y="2249.7" width="160.5" height="70.1" fill="#1f78b4"/>
<rect x="1761.5" y="2319.5" width="160.5" height="185.4" fill="#b2df8a"/>
<rect x="1761.5" y="2504.6" width="160.5" height="1.7" fill="#e8602c"/>
<rect x="1761.5" y="2506" width="160.5" height="1" fill="#fdbf6f"/>
<line x1="1761.5" y1="2114.3" x2="1922" y2="2114.3" stroke="#fff" stroke-width="1" stroke-opacity="0.16"/>
<line x1="1761.5" y1="2290.7" x2="1922" y2="2290.7" stroke="#fff" stroke-width="1" stroke-opacity="0.16"/>
<line x1="1761.5" y1="2384.9" x2="1922" y2="2384.9" stroke="#fff" stroke-width="1" stroke-opacity="0.16"/>
<line x1="1761.5" y1="2441" x2="1922" y2="2441" stroke="#fff" stroke-width="1" stroke-opacity="0.16"/>
<text x="1840.8" y="2105.2" font-size="25" text-anchor="middle">b</text>
<line x1="310.3" y1="2534.5" x2="1950" y2="2534.5" stroke="#333" stroke-width="3.5"/>
<line x1="1948.4" y1="1945" x2="1948.4" y2="2536" stroke="#333" stroke-width="3.5"/>
<line x1="1950" y1="1959.3" x2="1968.2" y2="1959.3" stroke="#333" stroke-width="4"/>
<text x="1981.6" y="1978.2" font-size="24.5" fill="#4d4d4d">100%</text>
<line x1="1950" y1="2106" x2="1968.2" y2="2106" stroke="#333" stroke-width="4"/>
<text x="1981.6" y="2113" font-size="24.5" fill="#4d4d4d">75%</text>
<line x1="1950" y1="2239.6" x2="1968.2" y2="2239.6" stroke="#333" stroke-width="4"/>
<text x="1981.6" y="2246.6" font-size="24.5" fill="#4d4d4d">50%</text>
<line x1="1950" y1="2373.4" x2="1968.2" y2="2373.4" stroke="#333" stroke-width="4"/>
<text x="1981.6" y="2380.4" font-size="24.5" fill="#4d4d4d">25%</text>
<line x1="1950" y1="2507" x2="1968.2" y2="2507" stroke="#333" stroke-width="4"/>
<text x="1981.6" y="2514" font-size="24.5" fill="#4d4d4d">0%</text>
<line x1="417.8" y1="2536" x2="417.8" y2="2547" stroke="#333" stroke-width="3.5"/>
<text x="417.8" y="2572.8" font-size="24.9" text-anchor="middle">SynCom</text>
<text x="417.8" y="2602.9" font-size="24.9" text-anchor="middle">(WT <tspan font-style="italic">Bacillus</tspan>)</text>
<line x1="595.8" y1="2536" x2="595.8" y2="2547" stroke="#333" stroke-width="3.5"/>
<text x="595.8" y="2572.8" font-size="24.9" text-anchor="middle"><tspan font-style="italic">Naegleria</tspan></text>
<text x="595.8" y="2602.9" font-size="24.9" text-anchor="middle">+</text>
<text x="595.8" y="2633" font-size="24.9" text-anchor="middle">SynCom</text>
<text x="595.8" y="2663.1" font-size="24.9" text-anchor="middle">(WT <tspan font-style="italic">Bacillus</tspan>)</text>
<line x1="773.8" y1="2536" x2="773.8" y2="2547" stroke="#333" stroke-width="3.5"/>
<text x="773.8" y="2572.8" font-size="24.9" text-anchor="middle"><tspan font-style="italic">Naegleria</tspan></text>
<text x="773.8" y="2602.9" font-size="24.9" text-anchor="middle">+</text>
<text x="773.8" y="2633" font-size="24.9" text-anchor="middle">SynCom</text>
<text x="773.8" y="2663.1" font-size="24.9" text-anchor="middle">(Δ<tspan font-style="italic">mln Bacillus</tspan>)</text>
<line x1="951.8" y1="2536" x2="951.8" y2="2547" stroke="#333" stroke-width="3.5"/>
<text x="951.8" y="2572.8" font-size="24.9" text-anchor="middle"><tspan font-style="italic">Naegleria</tspan></text>
<text x="951.8" y="2602.9" font-size="24.9" text-anchor="middle">+</text>
<text x="951.8" y="2633" font-size="24.9" text-anchor="middle">SynCom</text>
<text x="951.8" y="2663.1" font-size="24.9" text-anchor="middle">(Δ<tspan font-style="italic">espD Bacillus</tspan>)</text>
<line x1="1129.8" y1="2536" x2="1129.8" y2="2547" stroke="#333" stroke-width="3.5"/>
<text x="1129.8" y="2572.8" font-size="24.9" text-anchor="middle"><tspan font-style="italic">Naegleria</tspan></text>
<text x="1129.8" y="2602.9" font-size="24.9" text-anchor="middle">+</text>
<text x="1129.8" y="2633" font-size="24.9" text-anchor="middle">SynCom</text>
<text x="1129.8" y="2663.1" font-size="24.9" text-anchor="middle">(Δ<tspan font-style="italic">tasA Bacillus</tspan>)</text>
<line x1="1307.8" y1="2536" x2="1307.8" y2="2547" stroke="#333" stroke-width="3.5"/>
<text x="1307.8" y="2572.8" font-size="24.9" text-anchor="middle"><tspan font-style="italic">Naegleria</tspan></text>
<text x="1307.8" y="2602.9" font-size="24.9" text-anchor="middle">+</text>
<text x="1307.8" y="2633" font-size="24.9" text-anchor="middle">SynCom</text>
<text x="1307.8" y="2663.1" font-size="24.9" text-anchor="middle">(Δ<tspan font-style="italic">dfn Bacillus</tspan>)</text>
<line x1="1485.8" y1="2536" x2="1485.8" y2="2547" stroke="#333" stroke-width="3.5"/>
<text x="1485.8" y="2572.8" font-size="24.9" text-anchor="middle"><tspan font-style="italic">Naegleria</tspan></text>
<text x="1485.8" y="2602.9" font-size="24.9" text-anchor="middle">+</text>
<text x="1485.8" y="2633" font-size="24.9" text-anchor="middle">SynCom</text>
<text x="1485.8" y="2663.1" font-size="24.9" text-anchor="middle">(Δ<tspan font-style="italic">fen Bacillus</tspan>)</text>
<line x1="1663.8" y1="2536" x2="1663.8" y2="2547" stroke="#333" stroke-width="3.5"/>
<text x="1663.8" y="2572.8" font-size="24.9" text-anchor="middle"><tspan font-style="italic">Naegleria</tspan></text>
<text x="1663.8" y="2602.9" font-size="24.9" text-anchor="middle">+</text>
<text x="1663.8" y="2633" font-size="24.9" text-anchor="middle">SynCom</text>
<text x="1663.8" y="2663.1" font-size="24.9" text-anchor="middle">(Δ<tspan font-style="italic">srf Bacillus</tspan>)</text>
<line x1="1841.8" y1="2536" x2="1841.8" y2="2547" stroke="#333" stroke-width="3.5"/>
<text x="1841.8" y="2572.8" font-size="24.9" text-anchor="middle"><tspan font-style="italic">Naegleria</tspan></text>
<text x="1841.8" y="2602.9" font-size="24.9" text-anchor="middle">+</text>
<text x="1841.8" y="2633" font-size="24.9" text-anchor="middle">SynCom</text>
<text x="1841.8" y="2663.1" font-size="24.9" text-anchor="middle">(Δ<tspan font-style="italic">bae Bacillus</tspan>)</text>
</svg>
</body></html>
